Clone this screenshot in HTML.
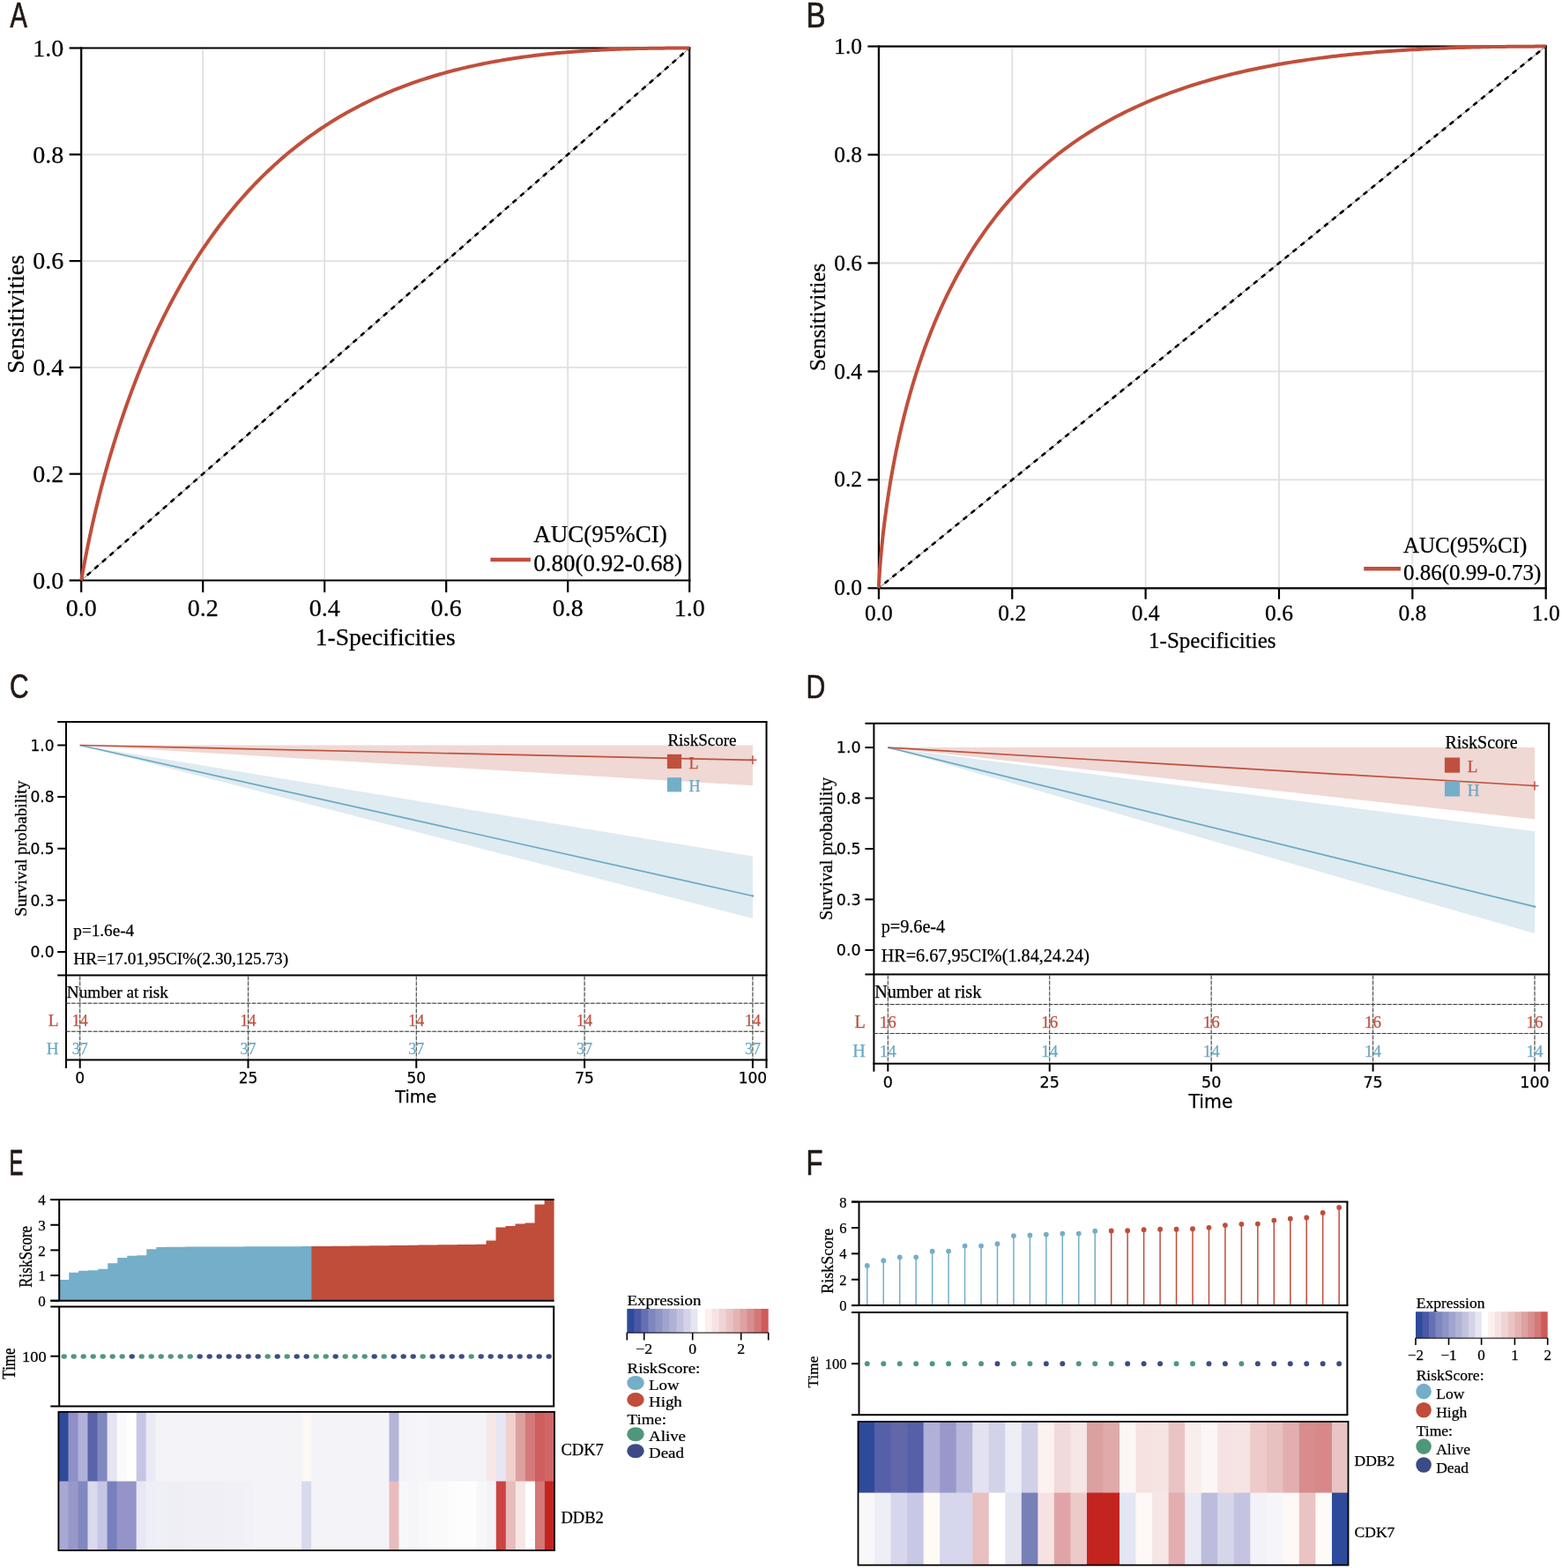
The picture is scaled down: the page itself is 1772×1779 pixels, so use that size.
<!DOCTYPE html>
<html><head><meta charset="utf-8"><title>Figure</title>
<style>html,body{margin:0;padding:0;background:#fff;}body{width:1772px;height:1779px;overflow:hidden;}svg{display:block;}</style>
</head><body>
<svg width="1772" height="1779" viewBox="0 0 1772 1779" shape-rendering="auto">
<rect x="0" y="0" width="1772" height="1779" fill="#fff"/>
<text transform="translate(11.49,30.55) scale(0.72,1)" font-family="'Liberation Sans', 'DejaVu Sans', sans-serif" font-size="40.41" fill="#231815" stroke="#231815" stroke-width="0.7">A</text>
<text transform="translate(914.44,30.65) scale(0.83,1)" font-family="'Liberation Sans', 'DejaVu Sans', sans-serif" font-size="39.97" fill="#231815" stroke="#231815" stroke-width="0.6">B</text>
<text transform="translate(10.92,792.36) scale(0.77,1)" font-family="'Liberation Sans', 'DejaVu Sans', sans-serif" font-size="38.84" fill="#231815" stroke="#231815" stroke-width="0.65">C</text>
<text transform="translate(914.46,792.25) scale(0.81,1)" font-family="'Liberation Sans', 'DejaVu Sans', sans-serif" font-size="37.35" fill="#231815" stroke="#231815" stroke-width="0.61">D</text>
<text transform="translate(10.48,1332.85) scale(0.59,1)" font-family="'Liberation Sans', 'DejaVu Sans', sans-serif" font-size="40.41" fill="#231815" stroke="#231815" stroke-width="0.84">E</text>
<text transform="translate(914.38,1332.85) scale(0.77,1)" font-family="'Liberation Sans', 'DejaVu Sans', sans-serif" font-size="40.41" fill="#231815" stroke="#231815" stroke-width="0.65">F</text>
<line x1="230.2" y1="56.5" x2="230.2" y2="657.5" stroke="#E0E0E0" stroke-width="1.8" />
<line x1="93.2" y1="537.7" x2="780.2" y2="537.7" stroke="#E0E0E0" stroke-width="1.8" />
<line x1="368.2" y1="56.5" x2="368.2" y2="657.5" stroke="#E0E0E0" stroke-width="1.8" />
<line x1="93.2" y1="416.9" x2="780.2" y2="416.9" stroke="#E0E0E0" stroke-width="1.8" />
<line x1="506.2" y1="56.5" x2="506.2" y2="657.5" stroke="#E0E0E0" stroke-width="1.8" />
<line x1="93.2" y1="296.1" x2="780.2" y2="296.1" stroke="#E0E0E0" stroke-width="1.8" />
<line x1="644.2" y1="56.5" x2="644.2" y2="657.5" stroke="#E0E0E0" stroke-width="1.8" />
<line x1="93.2" y1="175.3" x2="780.2" y2="175.3" stroke="#E0E0E0" stroke-width="1.8" />
<line x1="92.2" y1="658.5" x2="782.2" y2="54.5" stroke="#555" stroke-width="0.8" />
<line x1="92.2" y1="658.5" x2="782.2" y2="54.5" stroke="#000" stroke-width="2.6" stroke-dasharray="5.6 5.86" stroke-dashoffset="2.8"/>
<line x1="92.2" y1="54.5" x2="783.3" y2="54.5" stroke="#000" stroke-width="2.2" />
<line x1="92.2" y1="658.5" x2="783.3" y2="658.5" stroke="#000" stroke-width="2.2" />
<line x1="92.2" y1="53.4" x2="92.2" y2="659.6" stroke="#000" stroke-width="2.2" />
<line x1="782.2" y1="53.4" x2="782.2" y2="659.6" stroke="#000" stroke-width="2.2" />
<line x1="78.6" y1="658.5" x2="92.2" y2="658.5" stroke="#000" stroke-width="2.2" />
<text x="72.2" y="667.7" font-family="'Liberation Serif', 'Times New Roman', serif" font-size="28" text-anchor="end" fill="#000" stroke="#000" stroke-width="0.25" >0.0</text>
<line x1="92.2" y1="658.5" x2="92.2" y2="672.1" stroke="#000" stroke-width="2.2" />
<text x="92.2" y="698.7" font-family="'Liberation Serif', 'Times New Roman', serif" font-size="28" text-anchor="middle" fill="#000" stroke="#000" stroke-width="0.25" >0.0</text>
<line x1="78.6" y1="537.7" x2="92.2" y2="537.7" stroke="#000" stroke-width="2.2" />
<text x="72.2" y="546.9" font-family="'Liberation Serif', 'Times New Roman', serif" font-size="28" text-anchor="end" fill="#000" stroke="#000" stroke-width="0.25" >0.2</text>
<line x1="230.2" y1="658.5" x2="230.2" y2="672.1" stroke="#000" stroke-width="2.2" />
<text x="230.2" y="698.7" font-family="'Liberation Serif', 'Times New Roman', serif" font-size="28" text-anchor="middle" fill="#000" stroke="#000" stroke-width="0.25" >0.2</text>
<line x1="78.6" y1="416.9" x2="92.2" y2="416.9" stroke="#000" stroke-width="2.2" />
<text x="72.2" y="426.1" font-family="'Liberation Serif', 'Times New Roman', serif" font-size="28" text-anchor="end" fill="#000" stroke="#000" stroke-width="0.25" >0.4</text>
<line x1="368.2" y1="658.5" x2="368.2" y2="672.1" stroke="#000" stroke-width="2.2" />
<text x="368.2" y="698.7" font-family="'Liberation Serif', 'Times New Roman', serif" font-size="28" text-anchor="middle" fill="#000" stroke="#000" stroke-width="0.25" >0.4</text>
<line x1="78.6" y1="296.1" x2="92.2" y2="296.1" stroke="#000" stroke-width="2.2" />
<text x="72.2" y="305.3" font-family="'Liberation Serif', 'Times New Roman', serif" font-size="28" text-anchor="end" fill="#000" stroke="#000" stroke-width="0.25" >0.6</text>
<line x1="506.2" y1="658.5" x2="506.2" y2="672.1" stroke="#000" stroke-width="2.2" />
<text x="506.2" y="698.7" font-family="'Liberation Serif', 'Times New Roman', serif" font-size="28" text-anchor="middle" fill="#000" stroke="#000" stroke-width="0.25" >0.6</text>
<line x1="78.6" y1="175.3" x2="92.2" y2="175.3" stroke="#000" stroke-width="2.2" />
<text x="72.2" y="184.5" font-family="'Liberation Serif', 'Times New Roman', serif" font-size="28" text-anchor="end" fill="#000" stroke="#000" stroke-width="0.25" >0.8</text>
<line x1="644.2" y1="658.5" x2="644.2" y2="672.1" stroke="#000" stroke-width="2.2" />
<text x="644.2" y="698.7" font-family="'Liberation Serif', 'Times New Roman', serif" font-size="28" text-anchor="middle" fill="#000" stroke="#000" stroke-width="0.25" >0.8</text>
<line x1="78.6" y1="54.5" x2="92.2" y2="54.5" stroke="#000" stroke-width="2.2" />
<text x="72.2" y="63.7" font-family="'Liberation Serif', 'Times New Roman', serif" font-size="28" text-anchor="end" fill="#000" stroke="#000" stroke-width="0.25" >1.0</text>
<line x1="782.2" y1="658.5" x2="782.2" y2="672.1" stroke="#000" stroke-width="2.2" />
<text x="782.2" y="698.7" font-family="'Liberation Serif', 'Times New Roman', serif" font-size="28" text-anchor="middle" fill="#000" stroke="#000" stroke-width="0.25" >1.0</text>
<text x="437.2" y="731.9" font-family="'Liberation Serif', 'Times New Roman', serif" font-size="27.5" text-anchor="middle" fill="#000" stroke="#000" stroke-width="0.25" >1-Specificities</text>
<text transform="translate(27,356.5) rotate(-90)" font-family="'Liberation Serif', 'Times New Roman', serif" font-size="27.5" text-anchor="middle" fill="#000" stroke="#000" stroke-width="0.25">Sensitivities</text>
<path d="M92.2,658.5 L92.27,658.19 L92.35,657.82 L92.42,657.44 L92.49,657.04 L92.56,656.65 L92.64,656.24 L92.71,655.84 L92.78,655.43 L92.85,655.03 L92.93,654.62 L93,654.21 L93.07,653.8 L93.14,653.4 L93.22,652.99 L93.29,652.58 L93.36,652.17 L93.43,651.76 L93.51,651.35 L93.58,650.95 L93.58,650.95 L94.14,647.82 L94.7,644.72 L95.26,641.67 L95.83,638.66 L96.39,635.69 L96.95,632.76 L97.51,629.87 L98.07,627.01 L98.63,624.19 L99.19,621.4 L99.75,618.64 L100.32,615.92 L100.88,613.22 L101.44,610.55 L102,607.92 L102.56,605.31 L103.12,602.72 L103.68,600.16 L104.25,597.63 L104.81,595.12 L105.37,592.63 L105.93,590.17 L106.49,587.73 L107.05,585.31 L107.61,582.91 L108.18,580.53 L108.74,578.17 L109.3,575.84 L109.86,573.52 L110.42,571.22 L110.98,568.94 L111.54,566.68 L112.1,564.43 L112.67,562.2 L113.23,559.99 L113.79,557.8 L114.35,555.62 L114.91,553.46 L115.47,551.31 L116.03,549.18 L116.6,547.07 L117.16,544.97 L117.72,542.88 L118.28,540.81 L118.84,538.76 L119.4,536.71 L119.96,534.68 L120.53,532.67 L121.09,530.67 L121.65,528.68 L122.21,526.7 L122.77,524.74 L123.33,522.79 L123.89,520.85 L124.45,518.93 L125.02,517.01 L125.58,515.11 L126.14,513.22 L126.7,511.34 L126.7,511.34 L129.99,500.55 L133.29,490.12 L136.58,480.02 L139.88,470.25 L143.17,460.78 L146.46,451.59 L149.76,442.67 L153.05,434 L156.35,425.57 L159.64,417.37 L162.93,409.39 L166.23,401.61 L169.52,394.04 L172.82,386.65 L176.11,379.45 L179.4,372.43 L182.7,365.57 L185.99,358.88 L189.29,352.35 L192.58,345.96 L195.87,339.73 L199.17,333.63 L202.46,327.67 L205.76,321.85 L209.05,316.15 L212.34,310.58 L215.64,305.13 L218.93,299.79 L222.23,294.57 L225.52,289.46 L228.81,284.46 L232.11,279.56 L235.4,274.76 L238.69,270.06 L241.99,265.46 L245.28,260.95 L248.58,256.54 L251.87,252.21 L255.16,247.97 L258.46,243.81 L261.75,239.74 L265.05,235.75 L268.34,231.83 L271.63,228 L274.93,224.24 L278.22,220.55 L281.52,216.93 L284.81,213.39 L288.1,209.91 L291.4,206.5 L294.69,203.16 L297.99,199.88 L301.28,196.67 L304.57,193.51 L307.87,190.42 L311.16,187.39 L314.46,184.41 L317.75,181.49 L321.04,178.63 L324.34,175.82 L327.63,173.07 L330.93,170.37 L334.22,167.72 L337.51,165.12 L340.81,162.57 L344.1,160.06 L347.4,157.61 L350.69,155.2 L353.98,152.84 L357.28,150.53 L360.57,148.26 L363.87,146.03 L367.16,143.84 L370.45,141.7 L373.75,139.6 L377.04,137.54 L380.34,135.51 L383.63,133.53 L386.92,131.59 L390.22,129.68 L393.51,127.81 L396.81,125.98 L400.1,124.18 L403.39,122.42 L406.69,120.69 L409.98,119 L413.28,117.34 L416.57,115.71 L419.86,114.12 L423.16,112.55 L426.45,111.02 L429.75,109.52 L433.04,108.05 L436.33,106.61 L439.63,105.2 L442.92,103.82 L446.22,102.46 L449.51,101.13 L452.8,99.84 L456.1,98.56 L459.39,97.32 L462.68,96.1 L465.98,94.9 L469.27,93.73 L472.57,92.59 L475.86,91.47 L479.15,90.37 L482.45,89.3 L485.74,88.25 L489.04,87.23 L492.33,86.22 L495.62,85.24 L498.92,84.28 L502.21,83.35 L505.51,82.43 L508.8,81.53 L512.09,80.66 L515.39,79.8 L518.68,78.97 L521.98,78.15 L525.27,77.36 L528.56,76.58 L531.86,75.82 L535.15,75.08 L538.45,74.36 L541.74,73.65 L545.03,72.96 L548.33,72.29 L551.62,71.64 L554.92,71 L558.21,70.38 L561.5,69.78 L564.8,69.19 L568.09,68.61 L571.39,68.05 L574.68,67.51 L577.97,66.98 L581.27,66.47 L584.56,65.97 L587.86,65.49 L591.15,65.01 L594.44,64.56 L597.74,64.11 L601.03,63.68 L604.33,63.26 L607.62,62.86 L610.91,62.46 L614.21,62.08 L617.5,61.71 L620.8,61.36 L624.09,61.01 L627.38,60.68 L630.68,60.35 L633.97,60.04 L637.27,59.74 L640.56,59.45 L643.85,59.17 L647.15,58.9 L650.44,58.64 L653.74,58.39 L657.03,58.15 L660.32,57.92 L663.62,57.7 L666.91,57.49 L670.21,57.29 L673.5,57.1 L676.79,56.91 L680.09,56.73 L683.38,56.56 L686.67,56.4 L689.97,56.25 L693.26,56.11 L696.56,55.97 L699.85,55.84 L703.14,55.72 L706.44,55.6 L709.73,55.49 L713.03,55.39 L716.32,55.29 L719.61,55.21 L722.91,55.12 L726.2,55.05 L729.5,54.97 L732.79,54.91 L736.08,54.85 L739.38,54.8 L742.67,54.75 L745.97,54.7 L749.26,54.66 L752.55,54.63 L755.85,54.6 L759.14,54.57 L762.44,54.55 L765.73,54.54 L769.02,54.52 L772.32,54.51 L775.61,54.5 L778.91,54.5 L782.2,54.5 L782.2,54.5" fill="none" stroke="#C04F3C" stroke-width="4.0" stroke-linejoin="round"/>
<line x1="556.4" y1="635" x2="601.9" y2="635" stroke="#C04F3C" stroke-width="4.4" />
<text x="605.3" y="614.9" font-family="'Liberation Serif', 'Times New Roman', serif" font-size="27" text-anchor="start" fill="#000" stroke="#000" stroke-width="0.25" >AUC(95%CI)</text>
<text x="605.3" y="648.2" font-family="'Liberation Serif', 'Times New Roman', serif" font-size="27" text-anchor="start" fill="#000" stroke="#000" stroke-width="0.25" >0.80(0.92-0.68)</text>
<line x1="1148.26" y1="54.6" x2="1148.26" y2="666.3" stroke="#E0E0E0" stroke-width="1.8" />
<line x1="997.9" y1="544.36" x2="1751.7" y2="544.36" stroke="#E0E0E0" stroke-width="1.8" />
<line x1="1299.62" y1="54.6" x2="1299.62" y2="666.3" stroke="#E0E0E0" stroke-width="1.8" />
<line x1="997.9" y1="421.42" x2="1751.7" y2="421.42" stroke="#E0E0E0" stroke-width="1.8" />
<line x1="1450.98" y1="54.6" x2="1450.98" y2="666.3" stroke="#E0E0E0" stroke-width="1.8" />
<line x1="997.9" y1="298.48" x2="1751.7" y2="298.48" stroke="#E0E0E0" stroke-width="1.8" />
<line x1="1602.34" y1="54.6" x2="1602.34" y2="666.3" stroke="#E0E0E0" stroke-width="1.8" />
<line x1="997.9" y1="175.54" x2="1751.7" y2="175.54" stroke="#E0E0E0" stroke-width="1.8" />
<line x1="996.9" y1="667.3" x2="1753.7" y2="52.6" stroke="#555" stroke-width="0.8" />
<line x1="996.9" y1="667.3" x2="1753.7" y2="52.6" stroke="#000" stroke-width="2.6" stroke-dasharray="5.6 5.87" stroke-dashoffset="2.8"/>
<line x1="996.9" y1="52.6" x2="1754.8" y2="52.6" stroke="#000" stroke-width="2.2" />
<line x1="996.9" y1="667.3" x2="1754.8" y2="667.3" stroke="#000" stroke-width="2.2" />
<line x1="996.9" y1="51.5" x2="996.9" y2="668.4" stroke="#000" stroke-width="2.2" />
<line x1="1753.7" y1="51.5" x2="1753.7" y2="668.4" stroke="#000" stroke-width="2.2" />
<line x1="984.4" y1="667.3" x2="996.9" y2="667.3" stroke="#000" stroke-width="2.2" />
<text x="978" y="675.4" font-family="'Liberation Serif', 'Times New Roman', serif" font-size="25.5" text-anchor="end" fill="#000" stroke="#000" stroke-width="0.25" >0.0</text>
<line x1="996.9" y1="667.3" x2="996.9" y2="679.8" stroke="#000" stroke-width="2.2" />
<text x="996.9" y="703.9" font-family="'Liberation Serif', 'Times New Roman', serif" font-size="25.5" text-anchor="middle" fill="#000" stroke="#000" stroke-width="0.25" >0.0</text>
<line x1="984.4" y1="544.36" x2="996.9" y2="544.36" stroke="#000" stroke-width="2.2" />
<text x="978" y="552.46" font-family="'Liberation Serif', 'Times New Roman', serif" font-size="25.5" text-anchor="end" fill="#000" stroke="#000" stroke-width="0.25" >0.2</text>
<line x1="1148.26" y1="667.3" x2="1148.26" y2="679.8" stroke="#000" stroke-width="2.2" />
<text x="1148.26" y="703.9" font-family="'Liberation Serif', 'Times New Roman', serif" font-size="25.5" text-anchor="middle" fill="#000" stroke="#000" stroke-width="0.25" >0.2</text>
<line x1="984.4" y1="421.42" x2="996.9" y2="421.42" stroke="#000" stroke-width="2.2" />
<text x="978" y="429.52" font-family="'Liberation Serif', 'Times New Roman', serif" font-size="25.5" text-anchor="end" fill="#000" stroke="#000" stroke-width="0.25" >0.4</text>
<line x1="1299.62" y1="667.3" x2="1299.62" y2="679.8" stroke="#000" stroke-width="2.2" />
<text x="1299.62" y="703.9" font-family="'Liberation Serif', 'Times New Roman', serif" font-size="25.5" text-anchor="middle" fill="#000" stroke="#000" stroke-width="0.25" >0.4</text>
<line x1="984.4" y1="298.48" x2="996.9" y2="298.48" stroke="#000" stroke-width="2.2" />
<text x="978" y="306.58" font-family="'Liberation Serif', 'Times New Roman', serif" font-size="25.5" text-anchor="end" fill="#000" stroke="#000" stroke-width="0.25" >0.6</text>
<line x1="1450.98" y1="667.3" x2="1450.98" y2="679.8" stroke="#000" stroke-width="2.2" />
<text x="1450.98" y="703.9" font-family="'Liberation Serif', 'Times New Roman', serif" font-size="25.5" text-anchor="middle" fill="#000" stroke="#000" stroke-width="0.25" >0.6</text>
<line x1="984.4" y1="175.54" x2="996.9" y2="175.54" stroke="#000" stroke-width="2.2" />
<text x="978" y="183.64" font-family="'Liberation Serif', 'Times New Roman', serif" font-size="25.5" text-anchor="end" fill="#000" stroke="#000" stroke-width="0.25" >0.8</text>
<line x1="1602.34" y1="667.3" x2="1602.34" y2="679.8" stroke="#000" stroke-width="2.2" />
<text x="1602.34" y="703.9" font-family="'Liberation Serif', 'Times New Roman', serif" font-size="25.5" text-anchor="middle" fill="#000" stroke="#000" stroke-width="0.25" >0.8</text>
<line x1="984.4" y1="52.6" x2="996.9" y2="52.6" stroke="#000" stroke-width="2.2" />
<text x="978" y="60.7" font-family="'Liberation Serif', 'Times New Roman', serif" font-size="25.5" text-anchor="end" fill="#000" stroke="#000" stroke-width="0.25" >1.0</text>
<line x1="1753.7" y1="667.3" x2="1753.7" y2="679.8" stroke="#000" stroke-width="2.2" />
<text x="1753.7" y="703.9" font-family="'Liberation Serif', 'Times New Roman', serif" font-size="25.5" text-anchor="middle" fill="#000" stroke="#000" stroke-width="0.25" >1.0</text>
<text x="1375.3" y="735" font-family="'Liberation Serif', 'Times New Roman', serif" font-size="25" text-anchor="middle" fill="#000" stroke="#000" stroke-width="0.25" >1-Specificities</text>
<text transform="translate(936,359.95) rotate(-90)" font-family="'Liberation Serif', 'Times New Roman', serif" font-size="25" text-anchor="middle" fill="#000" stroke="#000" stroke-width="0.25">Sensitivities</text>
<path d="M996.9,667.3 L996.98,665.02 L997.06,663.17 L997.14,661.5 L997.22,659.94 L997.3,658.46 L997.38,657.04 L997.46,655.68 L997.54,654.36 L997.62,653.09 L997.7,651.84 L997.78,650.63 L997.86,649.45 L997.94,648.29 L998.02,647.15 L998.09,646.04 L998.17,644.94 L998.25,643.87 L998.33,642.81 L998.41,641.77 L998.41,641.77 L999.03,634.18 L999.65,627.25 L1000.26,620.79 L1000.88,614.73 L1001.49,608.98 L1002.11,603.5 L1002.72,598.26 L1003.34,593.22 L1003.95,588.37 L1004.57,583.67 L1005.19,579.13 L1005.8,574.73 L1006.42,570.45 L1007.03,566.28 L1007.65,562.22 L1008.26,558.26 L1008.88,554.4 L1009.5,550.62 L1010.11,546.93 L1010.73,543.31 L1011.34,539.77 L1011.96,536.3 L1012.57,532.9 L1013.19,529.55 L1013.81,526.27 L1014.42,523.05 L1015.04,519.88 L1015.65,516.77 L1016.27,513.71 L1016.88,510.69 L1017.5,507.72 L1018.12,504.8 L1018.73,501.92 L1019.35,499.09 L1019.96,496.29 L1020.58,493.54 L1021.19,490.82 L1021.81,488.14 L1022.43,485.49 L1023.04,482.88 L1023.66,480.31 L1024.27,477.76 L1024.89,475.25 L1025.5,472.77 L1026.12,470.32 L1026.74,467.9 L1027.35,465.5 L1027.97,463.14 L1028.58,460.8 L1029.2,458.49 L1029.81,456.2 L1030.43,453.94 L1031.05,451.7 L1031.66,449.49 L1032.28,447.3 L1032.89,445.13 L1033.51,442.99 L1034.12,440.87 L1034.74,438.76 L1034.74,438.76 L1038.35,426.85 L1041.97,415.57 L1045.58,404.87 L1049.19,394.69 L1052.8,384.97 L1056.42,375.7 L1060.03,366.81 L1063.64,358.3 L1067.26,350.12 L1070.87,342.26 L1074.48,334.69 L1078.09,327.39 L1081.71,320.36 L1085.32,313.56 L1088.93,307 L1092.55,300.65 L1096.16,294.5 L1099.77,288.55 L1103.38,282.79 L1107,277.2 L1110.61,271.77 L1114.22,266.51 L1117.84,261.39 L1121.45,256.42 L1125.06,251.59 L1128.67,246.9 L1132.29,242.33 L1135.9,237.88 L1139.51,233.55 L1143.13,229.34 L1146.74,225.23 L1150.35,221.23 L1153.96,217.33 L1157.58,213.53 L1161.19,209.82 L1164.8,206.21 L1168.42,202.68 L1172.03,199.23 L1175.64,195.87 L1179.25,192.59 L1182.87,189.39 L1186.48,186.26 L1190.09,183.2 L1193.71,180.21 L1197.32,177.3 L1200.93,174.44 L1204.54,171.66 L1208.16,168.93 L1211.77,166.27 L1215.38,163.66 L1219,161.12 L1222.61,158.62 L1226.22,156.19 L1229.83,153.8 L1233.45,151.47 L1237.06,149.19 L1240.67,146.96 L1244.29,144.77 L1247.9,142.63 L1251.51,140.54 L1255.12,138.49 L1258.74,136.49 L1262.35,134.52 L1265.96,132.6 L1269.58,130.72 L1273.19,128.88 L1276.8,127.07 L1280.41,125.31 L1284.03,123.58 L1287.64,121.89 L1291.25,120.23 L1294.87,118.6 L1298.48,117.01 L1302.09,115.46 L1305.7,113.93 L1309.32,112.44 L1312.93,110.97 L1316.54,109.54 L1320.16,108.14 L1323.77,106.76 L1327.38,105.42 L1330.99,104.1 L1334.61,102.81 L1338.22,101.54 L1341.83,100.3 L1345.45,99.09 L1349.06,97.9 L1352.67,96.74 L1356.28,95.6 L1359.9,94.48 L1363.51,93.39 L1367.12,92.32 L1370.74,91.27 L1374.35,90.25 L1377.96,89.24 L1381.57,88.26 L1385.19,87.3 L1388.8,86.35 L1392.41,85.43 L1396.03,84.53 L1399.64,83.64 L1403.25,82.78 L1406.87,81.93 L1410.48,81.1 L1414.09,80.29 L1417.7,79.5 L1421.32,78.72 L1424.93,77.96 L1428.54,77.22 L1432.16,76.49 L1435.77,75.78 L1439.38,75.09 L1442.99,74.41 L1446.61,73.74 L1450.22,73.09 L1453.83,72.46 L1457.45,71.84 L1461.06,71.23 L1464.67,70.64 L1468.28,70.06 L1471.9,69.49 L1475.51,68.94 L1479.12,68.4 L1482.74,67.87 L1486.35,67.36 L1489.96,66.86 L1493.57,66.36 L1497.19,65.89 L1500.8,65.42 L1504.41,64.96 L1508.03,64.52 L1511.64,64.09 L1515.25,63.66 L1518.86,63.25 L1522.48,62.85 L1526.09,62.46 L1529.7,62.08 L1533.32,61.71 L1536.93,61.35 L1540.54,61 L1544.15,60.66 L1547.77,60.32 L1551.38,60 L1554.99,59.69 L1558.61,59.38 L1562.22,59.09 L1565.83,58.8 L1569.44,58.52 L1573.06,58.25 L1576.67,57.98 L1580.28,57.73 L1583.9,57.48 L1587.51,57.24 L1591.12,57.01 L1594.73,56.79 L1598.35,56.57 L1601.96,56.36 L1605.57,56.16 L1609.19,55.96 L1612.8,55.77 L1616.41,55.59 L1620.02,55.41 L1623.64,55.24 L1627.25,55.08 L1630.86,54.93 L1634.48,54.77 L1638.09,54.63 L1641.7,54.49 L1645.31,54.36 L1648.93,54.23 L1652.54,54.11 L1656.15,54 L1659.77,53.88 L1663.38,53.78 L1666.99,53.68 L1670.6,53.58 L1674.22,53.49 L1677.83,53.41 L1681.44,53.33 L1685.06,53.25 L1688.67,53.18 L1692.28,53.12 L1695.89,53.06 L1699.51,53 L1703.12,52.95 L1706.73,52.9 L1710.35,52.85 L1713.96,52.81 L1717.57,52.77 L1721.18,52.74 L1724.8,52.71 L1728.41,52.68 L1732.02,52.66 L1735.64,52.64 L1739.25,52.63 L1742.86,52.62 L1746.47,52.61 L1750.09,52.6 L1753.7,52.6 L1753.7,52.6" fill="none" stroke="#C04F3C" stroke-width="4.0" stroke-linejoin="round"/>
<line x1="1547.2" y1="645.3" x2="1589" y2="645.3" stroke="#C04F3C" stroke-width="4.4" />
<text x="1592" y="627" font-family="'Liberation Serif', 'Times New Roman', serif" font-size="25" text-anchor="start" fill="#000" stroke="#000" stroke-width="0.25" >AUC(95%CI)</text>
<text x="1592" y="657.8" font-family="'Liberation Serif', 'Times New Roman', serif" font-size="25" text-anchor="start" fill="#000" stroke="#000" stroke-width="0.25" >0.86(0.99-0.73)</text>
<polygon points="90.7,845.5 853.9,845.5 853.9,891.3" fill="#F0D8D4"/>
<polygon points="90.7,845.5 853.9,971.5 853.9,1041.9" fill="#DEEBF1"/>
<line x1="90.7" y1="845.5" x2="853.9" y2="1016.5" stroke="#6AA8C3" stroke-width="1.7" />
<line x1="90.7" y1="845.5" x2="853.9" y2="862.3" stroke="#C0503E" stroke-width="1.7" />
<line x1="849.4" y1="862.3" x2="858.4" y2="862.3" stroke="#C0503E" stroke-width="1.5" />
<line x1="853.9" y1="857.3" x2="853.9" y2="867.3" stroke="#C0503E" stroke-width="1.5" />
<circle cx="853.9" cy="1016.5" r="1.3" fill="#6AA8C3"/>
<text x="757.4" y="846.3" font-family="'Liberation Serif', 'Times New Roman', serif" font-size="19" text-anchor="start" fill="#000" stroke="#000" stroke-width="0.25" >RiskScore</text>
<rect x="756.9" y="855.8" width="16.2" height="16.2" fill="#C0503E" />
<rect x="756.9" y="882.2" width="16.2" height="16.2" fill="#74AEC8" />
<text x="781.5" y="871.7" font-family="'Liberation Serif', 'Times New Roman', serif" font-size="18" text-anchor="start" fill="#C0503E" stroke="#C0503E" stroke-width="0.25" >L</text>
<text x="781.5" y="898" font-family="'Liberation Serif', 'Times New Roman', serif" font-size="18" text-anchor="start" fill="#6AA8C3" stroke="#6AA8C3" stroke-width="0.25" >H</text>
<text x="83.3" y="1062.2" font-family="'Liberation Serif', 'Times New Roman', serif" font-size="19.2" text-anchor="start" fill="#000" stroke="#000" stroke-width="0.25" >p=1.6e-4</text>
<text x="83.3" y="1094" font-family="'Liberation Serif', 'Times New Roman', serif" font-size="19.2" text-anchor="start" fill="#000" stroke="#000" stroke-width="0.25" >HR=17.01,95CI%(2.30,125.73)</text>
<text transform="translate(29.5,962.75) rotate(-90)" font-family="'Liberation Serif', 'Times New Roman', serif" font-size="19.2" text-anchor="middle" fill="#000" stroke="#000" stroke-width="0.25">Survival probability</text>
<line x1="65.2" y1="819.1" x2="870.5" y2="819.1" stroke="#000" stroke-width="2" />
<line x1="75" y1="819.1" x2="75" y2="1211.9" stroke="#000" stroke-width="2" />
<line x1="869.5" y1="819.1" x2="869.5" y2="1211.9" stroke="#000" stroke-width="2" />
<line x1="65.2" y1="1106.5" x2="870.5" y2="1106.5" stroke="#000" stroke-width="2" />
<line x1="65.2" y1="845.5" x2="75" y2="845.5" stroke="#000" stroke-width="2" />
<text x="61.6" y="851.71" font-family="'DejaVu Sans', 'Liberation Sans', sans-serif" font-size="17" text-anchor="end" fill="#000" stroke="#000" stroke-width="0.25" >1.0</text>
<line x1="65.2" y1="904.12" x2="75" y2="904.12" stroke="#000" stroke-width="2" />
<text x="61.6" y="910.33" font-family="'DejaVu Sans', 'Liberation Sans', sans-serif" font-size="17" text-anchor="end" fill="#000" stroke="#000" stroke-width="0.25" >0.8</text>
<line x1="65.2" y1="962.75" x2="75" y2="962.75" stroke="#000" stroke-width="2" />
<text x="61.6" y="968.96" font-family="'DejaVu Sans', 'Liberation Sans', sans-serif" font-size="17" text-anchor="end" fill="#000" stroke="#000" stroke-width="0.25" >0.5</text>
<line x1="65.2" y1="1021.38" x2="75" y2="1021.38" stroke="#000" stroke-width="2" />
<text x="61.6" y="1027.58" font-family="'DejaVu Sans', 'Liberation Sans', sans-serif" font-size="17" text-anchor="end" fill="#000" stroke="#000" stroke-width="0.25" >0.3</text>
<line x1="65.2" y1="1080" x2="75" y2="1080" stroke="#000" stroke-width="2" />
<text x="61.6" y="1086.2" font-family="'DejaVu Sans', 'Liberation Sans', sans-serif" font-size="17" text-anchor="end" fill="#000" stroke="#000" stroke-width="0.25" >0.0</text>
<text x="75.8" y="1131.9" font-family="'Liberation Serif', 'Times New Roman', serif" font-size="19.2" text-anchor="start" fill="#000" stroke="#000" stroke-width="0.25" >Number at risk</text>
<line x1="75" y1="1138.2" x2="868" y2="1138.2" stroke="#999" stroke-width="0.6" />
<line x1="75" y1="1138.2" x2="868" y2="1138.2" stroke="#3a3a3a" stroke-width="1.05" stroke-dasharray="4.4 1.8"/>
<line x1="75" y1="1170.2" x2="868" y2="1170.2" stroke="#999" stroke-width="0.6" />
<line x1="75" y1="1170.2" x2="868" y2="1170.2" stroke="#3a3a3a" stroke-width="1.05" stroke-dasharray="4.4 1.8"/>
<line x1="90.7" y1="1107.5" x2="90.7" y2="1202.5" stroke="#999" stroke-width="0.6" />
<line x1="90.7" y1="1107.5" x2="90.7" y2="1202.5" stroke="#3a3a3a" stroke-width="0.95" stroke-dasharray="4.4 1.8"/>
<line x1="90.7" y1="1202.5" x2="90.7" y2="1211.9" stroke="#000" stroke-width="2" />
<text x="90.7" y="1229.3" font-family="'DejaVu Sans', 'Liberation Sans', sans-serif" font-size="17" text-anchor="middle" fill="#000" stroke="#000" stroke-width="0.25" >0</text>
<text x="90.7" y="1164.1" font-family="'Liberation Serif', 'Times New Roman', serif" font-size="18" text-anchor="middle" fill="#C0503E" stroke="#C0503E" stroke-width="0.25" >14</text>
<text x="90.7" y="1195.9" font-family="'Liberation Serif', 'Times New Roman', serif" font-size="18" text-anchor="middle" fill="#6AA8C3" stroke="#6AA8C3" stroke-width="0.25" >37</text>
<line x1="281.5" y1="1107.5" x2="281.5" y2="1202.5" stroke="#999" stroke-width="0.6" />
<line x1="281.5" y1="1107.5" x2="281.5" y2="1202.5" stroke="#3a3a3a" stroke-width="0.95" stroke-dasharray="4.4 1.8"/>
<line x1="281.5" y1="1202.5" x2="281.5" y2="1211.9" stroke="#000" stroke-width="2" />
<text x="281.5" y="1229.3" font-family="'DejaVu Sans', 'Liberation Sans', sans-serif" font-size="17" text-anchor="middle" fill="#000" stroke="#000" stroke-width="0.25" >25</text>
<text x="281.5" y="1164.1" font-family="'Liberation Serif', 'Times New Roman', serif" font-size="18" text-anchor="middle" fill="#C0503E" stroke="#C0503E" stroke-width="0.25" >14</text>
<text x="281.5" y="1195.9" font-family="'Liberation Serif', 'Times New Roman', serif" font-size="18" text-anchor="middle" fill="#6AA8C3" stroke="#6AA8C3" stroke-width="0.25" >37</text>
<line x1="472.3" y1="1107.5" x2="472.3" y2="1202.5" stroke="#999" stroke-width="0.6" />
<line x1="472.3" y1="1107.5" x2="472.3" y2="1202.5" stroke="#3a3a3a" stroke-width="0.95" stroke-dasharray="4.4 1.8"/>
<line x1="472.3" y1="1202.5" x2="472.3" y2="1211.9" stroke="#000" stroke-width="2" />
<text x="472.3" y="1229.3" font-family="'DejaVu Sans', 'Liberation Sans', sans-serif" font-size="17" text-anchor="middle" fill="#000" stroke="#000" stroke-width="0.25" >50</text>
<text x="472.3" y="1164.1" font-family="'Liberation Serif', 'Times New Roman', serif" font-size="18" text-anchor="middle" fill="#C0503E" stroke="#C0503E" stroke-width="0.25" >14</text>
<text x="472.3" y="1195.9" font-family="'Liberation Serif', 'Times New Roman', serif" font-size="18" text-anchor="middle" fill="#6AA8C3" stroke="#6AA8C3" stroke-width="0.25" >37</text>
<line x1="663.1" y1="1107.5" x2="663.1" y2="1202.5" stroke="#999" stroke-width="0.6" />
<line x1="663.1" y1="1107.5" x2="663.1" y2="1202.5" stroke="#3a3a3a" stroke-width="0.95" stroke-dasharray="4.4 1.8"/>
<line x1="663.1" y1="1202.5" x2="663.1" y2="1211.9" stroke="#000" stroke-width="2" />
<text x="663.1" y="1229.3" font-family="'DejaVu Sans', 'Liberation Sans', sans-serif" font-size="17" text-anchor="middle" fill="#000" stroke="#000" stroke-width="0.25" >75</text>
<text x="663.1" y="1164.1" font-family="'Liberation Serif', 'Times New Roman', serif" font-size="18" text-anchor="middle" fill="#C0503E" stroke="#C0503E" stroke-width="0.25" >14</text>
<text x="663.1" y="1195.9" font-family="'Liberation Serif', 'Times New Roman', serif" font-size="18" text-anchor="middle" fill="#6AA8C3" stroke="#6AA8C3" stroke-width="0.25" >37</text>
<line x1="853.9" y1="1107.5" x2="853.9" y2="1202.5" stroke="#999" stroke-width="0.6" />
<line x1="853.9" y1="1107.5" x2="853.9" y2="1202.5" stroke="#3a3a3a" stroke-width="0.95" stroke-dasharray="4.4 1.8"/>
<line x1="853.9" y1="1202.5" x2="853.9" y2="1211.9" stroke="#000" stroke-width="2" />
<text x="853.9" y="1229.3" font-family="'DejaVu Sans', 'Liberation Sans', sans-serif" font-size="17" text-anchor="middle" fill="#000" stroke="#000" stroke-width="0.25" >100</text>
<text x="853.9" y="1164.1" font-family="'Liberation Serif', 'Times New Roman', serif" font-size="18" text-anchor="middle" fill="#C0503E" stroke="#C0503E" stroke-width="0.25" >14</text>
<text x="853.9" y="1195.9" font-family="'Liberation Serif', 'Times New Roman', serif" font-size="18" text-anchor="middle" fill="#6AA8C3" stroke="#6AA8C3" stroke-width="0.25" >37</text>
<line x1="74" y1="1202.5" x2="870.5" y2="1202.5" stroke="#000" stroke-width="2" />
<text x="66.5" y="1164.1" font-family="'Liberation Serif', 'Times New Roman', serif" font-size="19.2" text-anchor="end" fill="#C0503E" stroke="#C0503E" stroke-width="0.25" >L</text>
<text x="66.5" y="1195.9" font-family="'Liberation Serif', 'Times New Roman', serif" font-size="19.2" text-anchor="end" fill="#6AA8C3" stroke="#6AA8C3" stroke-width="0.25" >H</text>
<text x="471.8" y="1250.5" font-family="'DejaVu Sans', 'Liberation Sans', sans-serif" font-size="19.2" text-anchor="middle" fill="#000" stroke="#000" stroke-width="0.25" >Time</text>
<polygon points="1007.3,848.1 1741,848.1 1741,929.6" fill="#F0D8D4"/>
<polygon points="1007.3,848.1 1741,943.3 1741,1059.1" fill="#DEEBF1"/>
<line x1="1007.3" y1="848.1" x2="1741" y2="1028.7" stroke="#6AA8C3" stroke-width="1.7" />
<line x1="1007.3" y1="848.1" x2="1741" y2="891.5" stroke="#C0503E" stroke-width="1.7" />
<line x1="1736.5" y1="891.5" x2="1745.5" y2="891.5" stroke="#C0503E" stroke-width="1.5" />
<line x1="1741" y1="886.5" x2="1741" y2="896.5" stroke="#C0503E" stroke-width="1.5" />
<circle cx="1741" cy="1028.7" r="1.3" fill="#6AA8C3"/>
<text x="1639.4" y="848.9" font-family="'Liberation Serif', 'Times New Roman', serif" font-size="20" text-anchor="start" fill="#000" stroke="#000" stroke-width="0.25" >RiskScore</text>
<rect x="1638.9" y="859.5" width="17.2" height="17.2" fill="#C0503E" />
<rect x="1638.9" y="886.4" width="17.2" height="17.2" fill="#74AEC8" />
<text x="1664.8" y="876" font-family="'Liberation Serif', 'Times New Roman', serif" font-size="19" text-anchor="start" fill="#C0503E" stroke="#C0503E" stroke-width="0.25" >L</text>
<text x="1664.8" y="903" font-family="'Liberation Serif', 'Times New Roman', serif" font-size="19" text-anchor="start" fill="#6AA8C3" stroke="#6AA8C3" stroke-width="0.25" >H</text>
<text x="999.7" y="1057.6" font-family="'Liberation Serif', 'Times New Roman', serif" font-size="20.2" text-anchor="start" fill="#000" stroke="#000" stroke-width="0.25" >p=9.6e-4</text>
<text x="999.7" y="1091.4" font-family="'Liberation Serif', 'Times New Roman', serif" font-size="20.2" text-anchor="start" fill="#000" stroke="#000" stroke-width="0.25" >HR=6.67,95CI%(1.84,24.24)</text>
<text transform="translate(944,963) rotate(-90)" font-family="'Liberation Serif', 'Times New Roman', serif" font-size="20.2" text-anchor="middle" fill="#000" stroke="#000" stroke-width="0.25">Survival probability</text>
<line x1="981.4" y1="820.7" x2="1758.2" y2="820.7" stroke="#000" stroke-width="2" />
<line x1="991.4" y1="820.7" x2="991.4" y2="1215.7" stroke="#000" stroke-width="2" />
<line x1="1757.2" y1="820.7" x2="1757.2" y2="1215.7" stroke="#000" stroke-width="2" />
<line x1="981.4" y1="1105.6" x2="1758.2" y2="1105.6" stroke="#000" stroke-width="2" />
<line x1="981.4" y1="848.1" x2="991.4" y2="848.1" stroke="#000" stroke-width="2" />
<text x="976.6" y="854.49" font-family="'DejaVu Sans', 'Liberation Sans', sans-serif" font-size="17.5" text-anchor="end" fill="#000" stroke="#000" stroke-width="0.25" >1.0</text>
<line x1="981.4" y1="905.55" x2="991.4" y2="905.55" stroke="#000" stroke-width="2" />
<text x="976.6" y="911.94" font-family="'DejaVu Sans', 'Liberation Sans', sans-serif" font-size="17.5" text-anchor="end" fill="#000" stroke="#000" stroke-width="0.25" >0.8</text>
<line x1="981.4" y1="963" x2="991.4" y2="963" stroke="#000" stroke-width="2" />
<text x="976.6" y="969.39" font-family="'DejaVu Sans', 'Liberation Sans', sans-serif" font-size="17.5" text-anchor="end" fill="#000" stroke="#000" stroke-width="0.25" >0.5</text>
<line x1="981.4" y1="1020.45" x2="991.4" y2="1020.45" stroke="#000" stroke-width="2" />
<text x="976.6" y="1026.84" font-family="'DejaVu Sans', 'Liberation Sans', sans-serif" font-size="17.5" text-anchor="end" fill="#000" stroke="#000" stroke-width="0.25" >0.3</text>
<line x1="981.4" y1="1077.9" x2="991.4" y2="1077.9" stroke="#000" stroke-width="2" />
<text x="976.6" y="1084.29" font-family="'DejaVu Sans', 'Liberation Sans', sans-serif" font-size="17.5" text-anchor="end" fill="#000" stroke="#000" stroke-width="0.25" >0.0</text>
<text x="992.2" y="1131.9" font-family="'Liberation Serif', 'Times New Roman', serif" font-size="20.2" text-anchor="start" fill="#000" stroke="#000" stroke-width="0.25" >Number at risk</text>
<line x1="991.4" y1="1139.5" x2="1755.7" y2="1139.5" stroke="#999" stroke-width="0.6" />
<line x1="991.4" y1="1139.5" x2="1755.7" y2="1139.5" stroke="#3a3a3a" stroke-width="1.05" stroke-dasharray="4.4 1.8"/>
<line x1="991.4" y1="1172.5" x2="1755.7" y2="1172.5" stroke="#999" stroke-width="0.6" />
<line x1="991.4" y1="1172.5" x2="1755.7" y2="1172.5" stroke="#3a3a3a" stroke-width="1.05" stroke-dasharray="4.4 1.8"/>
<line x1="1007.3" y1="1106.6" x2="1007.3" y2="1206.8" stroke="#999" stroke-width="0.6" />
<line x1="1007.3" y1="1106.6" x2="1007.3" y2="1206.8" stroke="#3a3a3a" stroke-width="0.95" stroke-dasharray="4.4 1.8"/>
<line x1="1007.3" y1="1206.8" x2="1007.3" y2="1215.7" stroke="#000" stroke-width="2" />
<text x="1007.3" y="1234.3" font-family="'DejaVu Sans', 'Liberation Sans', sans-serif" font-size="17.5" text-anchor="middle" fill="#000" stroke="#000" stroke-width="0.25" >0</text>
<text x="1007.3" y="1165.7" font-family="'Liberation Serif', 'Times New Roman', serif" font-size="19" text-anchor="middle" fill="#C0503E" stroke="#C0503E" stroke-width="0.25" >16</text>
<text x="1007.3" y="1199.2" font-family="'Liberation Serif', 'Times New Roman', serif" font-size="19" text-anchor="middle" fill="#6AA8C3" stroke="#6AA8C3" stroke-width="0.25" >14</text>
<line x1="1190.72" y1="1106.6" x2="1190.72" y2="1206.8" stroke="#999" stroke-width="0.6" />
<line x1="1190.72" y1="1106.6" x2="1190.72" y2="1206.8" stroke="#3a3a3a" stroke-width="0.95" stroke-dasharray="4.4 1.8"/>
<line x1="1190.72" y1="1206.8" x2="1190.72" y2="1215.7" stroke="#000" stroke-width="2" />
<text x="1190.72" y="1234.3" font-family="'DejaVu Sans', 'Liberation Sans', sans-serif" font-size="17.5" text-anchor="middle" fill="#000" stroke="#000" stroke-width="0.25" >25</text>
<text x="1190.72" y="1165.7" font-family="'Liberation Serif', 'Times New Roman', serif" font-size="19" text-anchor="middle" fill="#C0503E" stroke="#C0503E" stroke-width="0.25" >16</text>
<text x="1190.72" y="1199.2" font-family="'Liberation Serif', 'Times New Roman', serif" font-size="19" text-anchor="middle" fill="#6AA8C3" stroke="#6AA8C3" stroke-width="0.25" >14</text>
<line x1="1374.15" y1="1106.6" x2="1374.15" y2="1206.8" stroke="#999" stroke-width="0.6" />
<line x1="1374.15" y1="1106.6" x2="1374.15" y2="1206.8" stroke="#3a3a3a" stroke-width="0.95" stroke-dasharray="4.4 1.8"/>
<line x1="1374.15" y1="1206.8" x2="1374.15" y2="1215.7" stroke="#000" stroke-width="2" />
<text x="1374.15" y="1234.3" font-family="'DejaVu Sans', 'Liberation Sans', sans-serif" font-size="17.5" text-anchor="middle" fill="#000" stroke="#000" stroke-width="0.25" >50</text>
<text x="1374.15" y="1165.7" font-family="'Liberation Serif', 'Times New Roman', serif" font-size="19" text-anchor="middle" fill="#C0503E" stroke="#C0503E" stroke-width="0.25" >16</text>
<text x="1374.15" y="1199.2" font-family="'Liberation Serif', 'Times New Roman', serif" font-size="19" text-anchor="middle" fill="#6AA8C3" stroke="#6AA8C3" stroke-width="0.25" >14</text>
<line x1="1557.57" y1="1106.6" x2="1557.57" y2="1206.8" stroke="#999" stroke-width="0.6" />
<line x1="1557.57" y1="1106.6" x2="1557.57" y2="1206.8" stroke="#3a3a3a" stroke-width="0.95" stroke-dasharray="4.4 1.8"/>
<line x1="1557.57" y1="1206.8" x2="1557.57" y2="1215.7" stroke="#000" stroke-width="2" />
<text x="1557.57" y="1234.3" font-family="'DejaVu Sans', 'Liberation Sans', sans-serif" font-size="17.5" text-anchor="middle" fill="#000" stroke="#000" stroke-width="0.25" >75</text>
<text x="1557.57" y="1165.7" font-family="'Liberation Serif', 'Times New Roman', serif" font-size="19" text-anchor="middle" fill="#C0503E" stroke="#C0503E" stroke-width="0.25" >16</text>
<text x="1557.57" y="1199.2" font-family="'Liberation Serif', 'Times New Roman', serif" font-size="19" text-anchor="middle" fill="#6AA8C3" stroke="#6AA8C3" stroke-width="0.25" >14</text>
<line x1="1741" y1="1106.6" x2="1741" y2="1206.8" stroke="#999" stroke-width="0.6" />
<line x1="1741" y1="1106.6" x2="1741" y2="1206.8" stroke="#3a3a3a" stroke-width="0.95" stroke-dasharray="4.4 1.8"/>
<line x1="1741" y1="1206.8" x2="1741" y2="1215.7" stroke="#000" stroke-width="2" />
<text x="1741" y="1234.3" font-family="'DejaVu Sans', 'Liberation Sans', sans-serif" font-size="17.5" text-anchor="middle" fill="#000" stroke="#000" stroke-width="0.25" >100</text>
<text x="1741" y="1165.7" font-family="'Liberation Serif', 'Times New Roman', serif" font-size="19" text-anchor="middle" fill="#C0503E" stroke="#C0503E" stroke-width="0.25" >16</text>
<text x="1741" y="1199.2" font-family="'Liberation Serif', 'Times New Roman', serif" font-size="19" text-anchor="middle" fill="#6AA8C3" stroke="#6AA8C3" stroke-width="0.25" >14</text>
<line x1="990.4" y1="1206.8" x2="1758.2" y2="1206.8" stroke="#000" stroke-width="2" />
<text x="981.9" y="1165.7" font-family="'Liberation Serif', 'Times New Roman', serif" font-size="20.2" text-anchor="end" fill="#C0503E" stroke="#C0503E" stroke-width="0.25" >L</text>
<text x="981.9" y="1199.2" font-family="'Liberation Serif', 'Times New Roman', serif" font-size="20.2" text-anchor="end" fill="#6AA8C3" stroke="#6AA8C3" stroke-width="0.25" >H</text>
<text x="1373.5" y="1257.4" font-family="'DejaVu Sans', 'Liberation Sans', sans-serif" font-size="20.4" text-anchor="middle" fill="#000" stroke="#000" stroke-width="0.25" >Time</text>
<path d="M67.2,1475.7 L67.2,1451.92 L78.21,1451.92 L78.21,1443.78 L89.22,1443.78 L89.22,1441.75 L100.22,1441.75 L100.22,1441.23 L111.23,1441.23 L111.23,1439.72 L122.24,1439.72 L122.24,1433.3 L133.25,1433.3 L133.25,1426.99 L144.25,1426.99 L144.25,1424.7 L155.26,1424.7 L155.26,1424.13 L166.27,1424.13 L166.27,1417.25 L177.28,1417.25 L177.28,1415.11 L188.29,1415.11 L188.29,1414.68 L199.29,1414.68 L199.29,1414.63 L210.3,1414.63 L210.3,1414.59 L221.31,1414.59 L221.31,1414.55 L232.32,1414.55 L232.32,1414.51 L243.33,1414.51 L243.33,1414.47 L254.33,1414.47 L254.33,1414.43 L265.34,1414.43 L265.34,1414.39 L276.35,1414.39 L276.35,1414.35 L287.36,1414.35 L287.36,1414.31 L298.36,1414.31 L298.36,1414.27 L309.37,1414.27 L309.37,1414.23 L320.38,1414.23 L320.38,1414.18 L331.39,1414.18 L331.39,1414.14 L342.4,1414.14 L342.4,1414.1 L353.4,1414.1 L354.2,1414.1 L354.2,1475.7 Z" fill="#74AEC8"/>
<path d="M353.4,1475.7 L353.4,1414.1 L364.41,1414.1 L364.41,1413.97 L375.42,1413.97 L375.42,1413.83 L386.43,1413.83 L386.43,1413.7 L397.44,1413.7 L397.44,1413.56 L408.44,1413.56 L408.44,1413.43 L419.45,1413.43 L419.45,1413.29 L430.46,1413.29 L430.46,1413.16 L441.47,1413.16 L441.47,1413.02 L452.47,1413.02 L452.47,1412.89 L463.48,1412.89 L463.48,1412.75 L474.49,1412.75 L474.49,1412.62 L485.5,1412.62 L485.5,1412.48 L496.51,1412.48 L496.51,1412.35 L507.51,1412.35 L507.51,1412.21 L518.52,1412.21 L518.52,1412.08 L529.53,1412.08 L529.53,1411.95 L540.54,1411.95 L540.54,1411.81 L551.55,1411.81 L551.55,1407.51 L562.55,1407.51 L562.55,1392.62 L573.56,1392.62 L573.56,1390.9 L584.57,1390.9 L584.57,1388.6 L595.58,1388.6 L595.58,1387.46 L606.58,1387.46 L606.58,1366.54 L617.59,1366.54 L617.59,1361.1 L628.6,1361.1 L628.6,1475.7 Z" fill="#BF4D3A"/>
<line x1="57.3" y1="1361.1" x2="628.6" y2="1361.1" stroke="#000" stroke-width="2" />
<line x1="57.3" y1="1475.7" x2="628.6" y2="1475.7" stroke="#000" stroke-width="2" />
<line x1="67.2" y1="1360.1" x2="67.2" y2="1476.7" stroke="#000" stroke-width="2" />
<line x1="57.3" y1="1475.7" x2="67.2" y2="1475.7" stroke="#000" stroke-width="2" />
<text x="51.7" y="1482" font-family="'Liberation Serif', 'Times New Roman', serif" font-size="17" text-anchor="end" fill="#000" stroke="#000" stroke-width="0.25" >0</text>
<line x1="57.3" y1="1447.05" x2="67.2" y2="1447.05" stroke="#000" stroke-width="2" />
<text x="51.7" y="1453.35" font-family="'Liberation Serif', 'Times New Roman', serif" font-size="17" text-anchor="end" fill="#000" stroke="#000" stroke-width="0.25" >1</text>
<line x1="57.3" y1="1418.4" x2="67.2" y2="1418.4" stroke="#000" stroke-width="2" />
<text x="51.7" y="1424.7" font-family="'Liberation Serif', 'Times New Roman', serif" font-size="17" text-anchor="end" fill="#000" stroke="#000" stroke-width="0.25" >2</text>
<line x1="57.3" y1="1389.75" x2="67.2" y2="1389.75" stroke="#000" stroke-width="2" />
<text x="51.7" y="1396.05" font-family="'Liberation Serif', 'Times New Roman', serif" font-size="17" text-anchor="end" fill="#000" stroke="#000" stroke-width="0.25" >3</text>
<line x1="57.3" y1="1361.1" x2="67.2" y2="1361.1" stroke="#000" stroke-width="2" />
<text x="51.7" y="1367.4" font-family="'Liberation Serif', 'Times New Roman', serif" font-size="17" text-anchor="end" fill="#000" stroke="#000" stroke-width="0.25" >4</text>
<text transform="translate(36,1425.8) rotate(-90) scale(1,1.2)" font-family="'Liberation Serif', 'Times New Roman', serif" font-size="17" text-anchor="middle" fill="#000" stroke="#000" stroke-width="0.25">RiskScore</text>
<line x1="57.3" y1="1482.4" x2="629.2" y2="1482.4" stroke="#000" stroke-width="2" />
<line x1="57.3" y1="1595.4" x2="629.2" y2="1595.4" stroke="#000" stroke-width="2" />
<line x1="67.2" y1="1482.4" x2="67.2" y2="1595.4" stroke="#000" stroke-width="2" />
<line x1="628.2" y1="1482.4" x2="628.2" y2="1595.4" stroke="#000" stroke-width="2" />
<line x1="57.3" y1="1538.7" x2="67.2" y2="1538.7" stroke="#000" stroke-width="2" />
<text transform="translate(52.6,1544.6) scale(1.08,1)" font-family="'Liberation Serif', 'Times New Roman', serif" font-size="17" text-anchor="end" fill="#000" stroke="#000" stroke-width="0.25">100</text>
<text transform="translate(16.8,1547) rotate(-90) scale(1,1.2)" font-family="'Liberation Serif', 'Times New Roman', serif" font-size="17" text-anchor="middle" fill="#000" stroke="#000" stroke-width="0.25">Time</text>
<ellipse cx="72.7" cy="1538.9" rx="3.2" ry="2.75" fill="#4F977B"/>
<ellipse cx="83.7" cy="1538.9" rx="3.2" ry="2.75" fill="#4F977B"/>
<ellipse cx="94.7" cy="1538.9" rx="3.2" ry="2.75" fill="#4F977B"/>
<ellipse cx="105.7" cy="1538.9" rx="3.2" ry="2.75" fill="#4F977B"/>
<ellipse cx="116.7" cy="1538.9" rx="3.2" ry="2.75" fill="#4F977B"/>
<ellipse cx="127.7" cy="1538.9" rx="3.2" ry="2.75" fill="#4F977B"/>
<ellipse cx="138.7" cy="1538.9" rx="3.2" ry="2.75" fill="#4F977B"/>
<ellipse cx="149.7" cy="1538.9" rx="3.2" ry="2.75" fill="#3C4B85"/>
<ellipse cx="160.7" cy="1538.9" rx="3.2" ry="2.75" fill="#4F977B"/>
<ellipse cx="171.7" cy="1538.9" rx="3.2" ry="2.75" fill="#4F977B"/>
<ellipse cx="182.7" cy="1538.9" rx="3.2" ry="2.75" fill="#4F977B"/>
<ellipse cx="193.7" cy="1538.9" rx="3.2" ry="2.75" fill="#4F977B"/>
<ellipse cx="204.7" cy="1538.9" rx="3.2" ry="2.75" fill="#4F977B"/>
<ellipse cx="215.7" cy="1538.9" rx="3.2" ry="2.75" fill="#4F977B"/>
<ellipse cx="226.7" cy="1538.9" rx="3.2" ry="2.75" fill="#3C4B85"/>
<ellipse cx="237.7" cy="1538.9" rx="3.2" ry="2.75" fill="#3C4B85"/>
<ellipse cx="248.7" cy="1538.9" rx="3.2" ry="2.75" fill="#3C4B85"/>
<ellipse cx="259.7" cy="1538.9" rx="3.2" ry="2.75" fill="#3C4B85"/>
<ellipse cx="270.7" cy="1538.9" rx="3.2" ry="2.75" fill="#3C4B85"/>
<ellipse cx="281.7" cy="1538.9" rx="3.2" ry="2.75" fill="#3C4B85"/>
<ellipse cx="292.7" cy="1538.9" rx="3.2" ry="2.75" fill="#3C4B85"/>
<ellipse cx="303.7" cy="1538.9" rx="3.2" ry="2.75" fill="#4F977B"/>
<ellipse cx="314.7" cy="1538.9" rx="3.2" ry="2.75" fill="#3C4B85"/>
<ellipse cx="325.7" cy="1538.9" rx="3.2" ry="2.75" fill="#4F977B"/>
<ellipse cx="336.7" cy="1538.9" rx="3.2" ry="2.75" fill="#3C4B85"/>
<ellipse cx="347.7" cy="1538.9" rx="3.2" ry="2.75" fill="#3C4B85"/>
<ellipse cx="358.7" cy="1538.9" rx="3.2" ry="2.75" fill="#4F977B"/>
<ellipse cx="369.7" cy="1538.9" rx="3.2" ry="2.75" fill="#4F977B"/>
<ellipse cx="380.7" cy="1538.9" rx="3.2" ry="2.75" fill="#3C4B85"/>
<ellipse cx="391.7" cy="1538.9" rx="3.2" ry="2.75" fill="#4F977B"/>
<ellipse cx="402.7" cy="1538.9" rx="3.2" ry="2.75" fill="#4F977B"/>
<ellipse cx="413.7" cy="1538.9" rx="3.2" ry="2.75" fill="#4F977B"/>
<ellipse cx="424.7" cy="1538.9" rx="3.2" ry="2.75" fill="#3C4B85"/>
<ellipse cx="435.7" cy="1538.9" rx="3.2" ry="2.75" fill="#4F977B"/>
<ellipse cx="446.7" cy="1538.9" rx="3.2" ry="2.75" fill="#3C4B85"/>
<ellipse cx="457.7" cy="1538.9" rx="3.2" ry="2.75" fill="#3C4B85"/>
<ellipse cx="468.7" cy="1538.9" rx="3.2" ry="2.75" fill="#3C4B85"/>
<ellipse cx="479.7" cy="1538.9" rx="3.2" ry="2.75" fill="#4F977B"/>
<ellipse cx="490.7" cy="1538.9" rx="3.2" ry="2.75" fill="#3C4B85"/>
<ellipse cx="501.7" cy="1538.9" rx="3.2" ry="2.75" fill="#3C4B85"/>
<ellipse cx="512.7" cy="1538.9" rx="3.2" ry="2.75" fill="#3C4B85"/>
<ellipse cx="523.7" cy="1538.9" rx="3.2" ry="2.75" fill="#3C4B85"/>
<ellipse cx="534.7" cy="1538.9" rx="3.2" ry="2.75" fill="#4F977B"/>
<ellipse cx="545.7" cy="1538.9" rx="3.2" ry="2.75" fill="#3C4B85"/>
<ellipse cx="556.7" cy="1538.9" rx="3.2" ry="2.75" fill="#3C4B85"/>
<ellipse cx="567.7" cy="1538.9" rx="3.2" ry="2.75" fill="#3C4B85"/>
<ellipse cx="578.7" cy="1538.9" rx="3.2" ry="2.75" fill="#3C4B85"/>
<ellipse cx="589.7" cy="1538.9" rx="3.2" ry="2.75" fill="#3C4B85"/>
<ellipse cx="600.7" cy="1538.9" rx="3.2" ry="2.75" fill="#3C4B85"/>
<ellipse cx="611.7" cy="1538.9" rx="3.2" ry="2.75" fill="#3C4B85"/>
<ellipse cx="622.7" cy="1538.9" rx="3.2" ry="2.75" fill="#3C4B85"/>
<rect x="66.4" y="1601.9" width="11.73" height="79.2" fill="#2E4A9A" />
<rect x="66.4" y="1680.6" width="11.73" height="78.4" fill="#A8A8D4" />
<rect x="77.43" y="1601.9" width="11.73" height="79.2" fill="#9090C8" />
<rect x="77.43" y="1680.6" width="11.73" height="78.4" fill="#9898C8" />
<rect x="88.46" y="1601.9" width="11.73" height="79.2" fill="#B0B0D8" />
<rect x="88.46" y="1680.6" width="11.73" height="78.4" fill="#8088C0" />
<rect x="99.49" y="1601.9" width="11.73" height="79.2" fill="#5A64AA" />
<rect x="99.49" y="1680.6" width="11.73" height="78.4" fill="#DADAEE" />
<rect x="110.53" y="1601.9" width="11.73" height="79.2" fill="#8088C0" />
<rect x="110.53" y="1680.6" width="11.73" height="78.4" fill="#C6C6E4" />
<rect x="121.56" y="1601.9" width="11.73" height="79.2" fill="#E4E4F2" />
<rect x="121.56" y="1680.6" width="11.73" height="78.4" fill="#7880BC" />
<rect x="132.59" y="1601.9" width="11.73" height="79.2" fill="#FAFAFC" />
<rect x="132.59" y="1680.6" width="11.73" height="78.4" fill="#9494C8" />
<rect x="143.62" y="1601.9" width="11.73" height="79.2" fill="#FFFFFF" />
<rect x="143.62" y="1680.6" width="11.73" height="78.4" fill="#9494C8" />
<rect x="154.65" y="1601.9" width="11.73" height="79.2" fill="#C6C6E4" />
<rect x="154.65" y="1680.6" width="11.73" height="78.4" fill="#E8E8F4" />
<rect x="165.68" y="1601.9" width="11.73" height="79.2" fill="#EAEAF4" />
<rect x="165.68" y="1680.6" width="11.73" height="78.4" fill="#EEEEF6" />
<rect x="176.71" y="1601.9" width="11.73" height="79.2" fill="#F3F3F8" />
<rect x="176.71" y="1680.6" width="11.73" height="78.4" fill="#EFEFF5" />
<rect x="187.75" y="1601.9" width="11.73" height="79.2" fill="#F3F3F8" />
<rect x="187.75" y="1680.6" width="11.73" height="78.4" fill="#EEEEF5" />
<rect x="198.78" y="1601.9" width="11.73" height="79.2" fill="#F3F3F8" />
<rect x="198.78" y="1680.6" width="11.73" height="78.4" fill="#EEEEF4" />
<rect x="209.81" y="1601.9" width="11.73" height="79.2" fill="#F3F3F8" />
<rect x="209.81" y="1680.6" width="11.73" height="78.4" fill="#EFEFF5" />
<rect x="220.84" y="1601.9" width="11.73" height="79.2" fill="#F3F3F8" />
<rect x="220.84" y="1680.6" width="11.73" height="78.4" fill="#EFEFF5" />
<rect x="231.87" y="1601.9" width="11.73" height="79.2" fill="#F3F3F8" />
<rect x="231.87" y="1680.6" width="11.73" height="78.4" fill="#EFEFF5" />
<rect x="242.9" y="1601.9" width="11.73" height="79.2" fill="#F3F3F8" />
<rect x="242.9" y="1680.6" width="11.73" height="78.4" fill="#EFEFF5" />
<rect x="253.93" y="1601.9" width="11.73" height="79.2" fill="#F3F3F8" />
<rect x="253.93" y="1680.6" width="11.73" height="78.4" fill="#F0F0F6" />
<rect x="264.96" y="1601.9" width="11.73" height="79.2" fill="#F3F3F8" />
<rect x="264.96" y="1680.6" width="11.73" height="78.4" fill="#F0F0F6" />
<rect x="276" y="1601.9" width="11.73" height="79.2" fill="#F3F3F8" />
<rect x="276" y="1680.6" width="11.73" height="78.4" fill="#F1F1F7" />
<rect x="287.03" y="1601.9" width="11.73" height="79.2" fill="#F3F3F8" />
<rect x="287.03" y="1680.6" width="11.73" height="78.4" fill="#F3F3F8" />
<rect x="298.06" y="1601.9" width="11.73" height="79.2" fill="#F3F3F8" />
<rect x="298.06" y="1680.6" width="11.73" height="78.4" fill="#F3F3F8" />
<rect x="309.09" y="1601.9" width="11.73" height="79.2" fill="#F3F3F8" />
<rect x="309.09" y="1680.6" width="11.73" height="78.4" fill="#F3F3F8" />
<rect x="320.12" y="1601.9" width="11.73" height="79.2" fill="#F3F3F8" />
<rect x="320.12" y="1680.6" width="11.73" height="78.4" fill="#F3F3F8" />
<rect x="331.15" y="1601.9" width="11.73" height="79.2" fill="#F3F3F8" />
<rect x="331.15" y="1680.6" width="11.73" height="78.4" fill="#F3F3F8" />
<rect x="342.18" y="1601.9" width="11.73" height="79.2" fill="#FDF8F6" />
<rect x="342.18" y="1680.6" width="11.73" height="78.4" fill="#D8DAEC" />
<rect x="353.22" y="1601.9" width="11.73" height="79.2" fill="#F3F3F8" />
<rect x="353.22" y="1680.6" width="11.73" height="78.4" fill="#F4F4F8" />
<rect x="364.25" y="1601.9" width="11.73" height="79.2" fill="#F3F3F8" />
<rect x="364.25" y="1680.6" width="11.73" height="78.4" fill="#F4F4F8" />
<rect x="375.28" y="1601.9" width="11.73" height="79.2" fill="#F3F3F8" />
<rect x="375.28" y="1680.6" width="11.73" height="78.4" fill="#F4F4F8" />
<rect x="386.31" y="1601.9" width="11.73" height="79.2" fill="#F3F3F8" />
<rect x="386.31" y="1680.6" width="11.73" height="78.4" fill="#F4F4F8" />
<rect x="397.34" y="1601.9" width="11.73" height="79.2" fill="#F3F3F8" />
<rect x="397.34" y="1680.6" width="11.73" height="78.4" fill="#F4F4F8" />
<rect x="408.37" y="1601.9" width="11.73" height="79.2" fill="#F3F3F8" />
<rect x="408.37" y="1680.6" width="11.73" height="78.4" fill="#F4F4F8" />
<rect x="419.4" y="1601.9" width="11.73" height="79.2" fill="#F3F3F8" />
<rect x="419.4" y="1680.6" width="11.73" height="78.4" fill="#F4F4F8" />
<rect x="430.44" y="1601.9" width="11.73" height="79.2" fill="#F3F3F8" />
<rect x="430.44" y="1680.6" width="11.73" height="78.4" fill="#F4F4F8" />
<rect x="441.47" y="1601.9" width="11.73" height="79.2" fill="#B4B4D8" />
<rect x="441.47" y="1680.6" width="11.73" height="78.4" fill="#E8BCBC" />
<rect x="452.5" y="1601.9" width="11.73" height="79.2" fill="#F4F4F8" />
<rect x="452.5" y="1680.6" width="11.73" height="78.4" fill="#F8F8FA" />
<rect x="463.53" y="1601.9" width="11.73" height="79.2" fill="#F5F5F9" />
<rect x="463.53" y="1680.6" width="11.73" height="78.4" fill="#F6F6FA" />
<rect x="474.56" y="1601.9" width="11.73" height="79.2" fill="#F6F6FA" />
<rect x="474.56" y="1680.6" width="11.73" height="78.4" fill="#F8F8FB" />
<rect x="485.59" y="1601.9" width="11.73" height="79.2" fill="#F4F4F8" />
<rect x="485.59" y="1680.6" width="11.73" height="78.4" fill="#FAFAFB" />
<rect x="496.62" y="1601.9" width="11.73" height="79.2" fill="#F3F3F8" />
<rect x="496.62" y="1680.6" width="11.73" height="78.4" fill="#FAFAFB" />
<rect x="507.65" y="1601.9" width="11.73" height="79.2" fill="#F3F3F8" />
<rect x="507.65" y="1680.6" width="11.73" height="78.4" fill="#FCFCFC" />
<rect x="518.69" y="1601.9" width="11.73" height="79.2" fill="#F4F4F8" />
<rect x="518.69" y="1680.6" width="11.73" height="78.4" fill="#FDFDFD" />
<rect x="529.72" y="1601.9" width="11.73" height="79.2" fill="#F3F3F8" />
<rect x="529.72" y="1680.6" width="11.73" height="78.4" fill="#FDFDFD" />
<rect x="540.75" y="1601.9" width="11.73" height="79.2" fill="#F4F4F8" />
<rect x="540.75" y="1680.6" width="11.73" height="78.4" fill="#F8F8FA" />
<rect x="551.78" y="1601.9" width="11.73" height="79.2" fill="#F6E8E6" />
<rect x="551.78" y="1680.6" width="11.73" height="78.4" fill="#F4F4F8" />
<rect x="562.81" y="1601.9" width="11.73" height="79.2" fill="#E6E6F4" />
<rect x="562.81" y="1680.6" width="11.73" height="78.4" fill="#CC4444" />
<rect x="573.84" y="1601.9" width="11.73" height="79.2" fill="#F0D0CC" />
<rect x="573.84" y="1680.6" width="11.73" height="78.4" fill="#E8BCBC" />
<rect x="584.87" y="1601.9" width="11.73" height="79.2" fill="#DDA0A0" />
<rect x="584.87" y="1680.6" width="11.73" height="78.4" fill="#F6E6E6" />
<rect x="595.91" y="1601.9" width="11.73" height="79.2" fill="#D47A7A" />
<rect x="595.91" y="1680.6" width="11.73" height="78.4" fill="#FFFFFF" />
<rect x="606.94" y="1601.9" width="11.73" height="79.2" fill="#CF5F5F" />
<rect x="606.94" y="1680.6" width="11.73" height="78.4" fill="#D47878" />
<rect x="617.97" y="1601.9" width="11.03" height="79.2" fill="#D06666" />
<rect x="617.97" y="1680.6" width="11.03" height="78.4" fill="#C42420" />
<rect x="66.4" y="1601.9" width="562.6" height="157.1" fill="none" stroke="#000" stroke-width="1.8"/>
<text x="636.5" y="1650.6" font-family="'Liberation Serif', 'Times New Roman', serif" font-size="18.5" text-anchor="start" fill="#000" stroke="#000" stroke-width="0.25" >CDK7</text>
<text x="636.5" y="1728.2" font-family="'Liberation Serif', 'Times New Roman', serif" font-size="18.5" text-anchor="start" fill="#000" stroke="#000" stroke-width="0.25" >DDB2</text>
<text transform="translate(711.6,1480.8) scale(1.11,1)" font-family="'Liberation Serif', 'Times New Roman', serif" font-size="17" text-anchor="start" fill="#000" stroke="#000" stroke-width="0.25">Expression</text>
<rect x="711.3" y="1484.9" width="8.72" height="27.2" fill="#2E4A9A" />
<rect x="719.32" y="1484.9" width="8.72" height="27.2" fill="#4A58A6" />
<rect x="727.34" y="1484.9" width="8.72" height="27.2" fill="#6470B2" />
<rect x="735.36" y="1484.9" width="8.72" height="27.2" fill="#7E86BE" />
<rect x="743.38" y="1484.9" width="8.72" height="27.2" fill="#8E94C6" />
<rect x="751.4" y="1484.9" width="8.72" height="27.2" fill="#A0A4CE" />
<rect x="759.42" y="1484.9" width="8.72" height="27.2" fill="#B0B2D6" />
<rect x="767.44" y="1484.9" width="8.72" height="27.2" fill="#C2C2DE" />
<rect x="775.46" y="1484.9" width="8.72" height="27.2" fill="#D4D4E8" />
<rect x="783.48" y="1484.9" width="8.72" height="27.2" fill="#E6E6F2" />
<rect x="791.5" y="1484.9" width="8.72" height="27.2" fill="#FFFFFF" />
<rect x="799.52" y="1484.9" width="8.72" height="27.2" fill="#FBF0EE" />
<rect x="807.54" y="1484.9" width="8.72" height="27.2" fill="#F6E2E2" />
<rect x="815.56" y="1484.9" width="8.72" height="27.2" fill="#F0D4D4" />
<rect x="823.58" y="1484.9" width="8.72" height="27.2" fill="#EAC4C4" />
<rect x="831.6" y="1484.9" width="8.72" height="27.2" fill="#E4B4B4" />
<rect x="839.62" y="1484.9" width="8.72" height="27.2" fill="#DEA2A2" />
<rect x="847.64" y="1484.9" width="8.72" height="27.2" fill="#D88E8E" />
<rect x="855.66" y="1484.9" width="8.72" height="27.2" fill="#D47878" />
<rect x="863.68" y="1484.9" width="8.02" height="27.2" fill="#D05A5A" />
<line x1="710.8" y1="1512.1" x2="872.2" y2="1512.1" stroke="#000" stroke-width="1" />
<line x1="711.3" y1="1512.1" x2="711.3" y2="1520.5" stroke="#000" stroke-width="1.6" />
<line x1="730.7" y1="1512.1" x2="730.7" y2="1520.5" stroke="#000" stroke-width="1.6" />
<text transform="translate(730.7,1536) scale(1.11,1)" font-family="'Liberation Serif', 'Times New Roman', serif" font-size="16" text-anchor="middle" fill="#000" stroke="#000" stroke-width="0.25">−2</text>
<line x1="785.7" y1="1512.1" x2="785.7" y2="1520.5" stroke="#000" stroke-width="1.6" />
<text transform="translate(785.7,1536) scale(1.11,1)" font-family="'Liberation Serif', 'Times New Roman', serif" font-size="16" text-anchor="middle" fill="#000" stroke="#000" stroke-width="0.25">0</text>
<line x1="840.7" y1="1512.1" x2="840.7" y2="1520.5" stroke="#000" stroke-width="1.6" />
<text transform="translate(840.7,1536) scale(1.11,1)" font-family="'Liberation Serif', 'Times New Roman', serif" font-size="16" text-anchor="middle" fill="#000" stroke="#000" stroke-width="0.25">2</text>
<line x1="871.7" y1="1512.1" x2="871.7" y2="1520.5" stroke="#000" stroke-width="1.6" />
<text transform="translate(711.6,1557.8) scale(1.11,1)" font-family="'Liberation Serif', 'Times New Roman', serif" font-size="17" text-anchor="start" fill="#000" stroke="#000" stroke-width="0.25">RiskScore:</text>
<text transform="translate(711.6,1615.5) scale(1.11,1)" font-family="'Liberation Serif', 'Times New Roman', serif" font-size="17" text-anchor="start" fill="#000" stroke="#000" stroke-width="0.25">Time:</text>
<ellipse cx="721" cy="1569" rx="9.75" ry="8.05" fill="#74AEC8"/>
<text transform="translate(736.1,1577.2) scale(1.11,1)" font-family="'Liberation Serif', 'Times New Roman', serif" font-size="17" text-anchor="start" fill="#000" stroke="#000" stroke-width="0.25">Low</text>
<ellipse cx="721" cy="1588.1" rx="9.75" ry="8.05" fill="#BF4D3A"/>
<text transform="translate(736.1,1596.4) scale(1.11,1)" font-family="'Liberation Serif', 'Times New Roman', serif" font-size="17" text-anchor="start" fill="#000" stroke="#000" stroke-width="0.25">High</text>
<ellipse cx="721" cy="1627.2" rx="9.75" ry="8.05" fill="#4F977B"/>
<text transform="translate(736.1,1635.2) scale(1.11,1)" font-family="'Liberation Serif', 'Times New Roman', serif" font-size="17" text-anchor="start" fill="#000" stroke="#000" stroke-width="0.25">Alive</text>
<ellipse cx="721" cy="1646.3" rx="9.75" ry="8.05" fill="#3C4B85"/>
<text transform="translate(736.1,1654.3) scale(1.11,1)" font-family="'Liberation Serif', 'Times New Roman', serif" font-size="17" text-anchor="start" fill="#000" stroke="#000" stroke-width="0.25">Dead</text>
<line x1="966" y1="1363.6" x2="1529.4" y2="1363.6" stroke="#000" stroke-width="2" />
<line x1="966" y1="1481.1" x2="1529.4" y2="1481.1" stroke="#000" stroke-width="2" />
<line x1="974.5" y1="1363.6" x2="974.5" y2="1481.1" stroke="#000" stroke-width="2" />
<line x1="1528.4" y1="1363.6" x2="1528.4" y2="1481.1" stroke="#000" stroke-width="2" />
<line x1="983.8" y1="1480.1" x2="983.8" y2="1436.01" stroke="#74AEC8" stroke-width="1.5" />
<circle cx="983.8" cy="1436.01" r="2.9" fill="#74AEC8"/>
<line x1="1002.26" y1="1480.1" x2="1002.26" y2="1430.13" stroke="#74AEC8" stroke-width="1.5" />
<circle cx="1002.26" cy="1430.13" r="2.9" fill="#74AEC8"/>
<line x1="1020.72" y1="1480.1" x2="1020.72" y2="1426.32" stroke="#74AEC8" stroke-width="1.5" />
<circle cx="1020.72" cy="1426.32" r="2.9" fill="#74AEC8"/>
<line x1="1039.18" y1="1480.1" x2="1039.18" y2="1426.32" stroke="#74AEC8" stroke-width="1.5" />
<circle cx="1039.18" cy="1426.32" r="2.9" fill="#74AEC8"/>
<line x1="1057.64" y1="1480.1" x2="1057.64" y2="1419.71" stroke="#74AEC8" stroke-width="1.5" />
<circle cx="1057.64" cy="1419.71" r="2.9" fill="#74AEC8"/>
<line x1="1076.1" y1="1480.1" x2="1076.1" y2="1419.56" stroke="#74AEC8" stroke-width="1.5" />
<circle cx="1076.1" cy="1419.56" r="2.9" fill="#74AEC8"/>
<line x1="1094.56" y1="1480.1" x2="1094.56" y2="1413.54" stroke="#74AEC8" stroke-width="1.5" />
<circle cx="1094.56" cy="1413.54" r="2.9" fill="#74AEC8"/>
<line x1="1113.02" y1="1480.1" x2="1113.02" y2="1413.54" stroke="#74AEC8" stroke-width="1.5" />
<circle cx="1113.02" cy="1413.54" r="2.9" fill="#74AEC8"/>
<line x1="1131.48" y1="1480.1" x2="1131.48" y2="1411.19" stroke="#74AEC8" stroke-width="1.5" />
<circle cx="1131.48" cy="1411.19" r="2.9" fill="#74AEC8"/>
<line x1="1149.94" y1="1480.1" x2="1149.94" y2="1402.08" stroke="#74AEC8" stroke-width="1.5" />
<circle cx="1149.94" cy="1402.08" r="2.9" fill="#74AEC8"/>
<line x1="1168.4" y1="1480.1" x2="1168.4" y2="1401.49" stroke="#74AEC8" stroke-width="1.5" />
<circle cx="1168.4" cy="1401.49" r="2.9" fill="#74AEC8"/>
<line x1="1186.86" y1="1480.1" x2="1186.86" y2="1400.61" stroke="#74AEC8" stroke-width="1.5" />
<circle cx="1186.86" cy="1400.61" r="2.9" fill="#74AEC8"/>
<line x1="1205.32" y1="1480.1" x2="1205.32" y2="1399.58" stroke="#74AEC8" stroke-width="1.5" />
<circle cx="1205.32" cy="1399.58" r="2.9" fill="#74AEC8"/>
<line x1="1223.78" y1="1480.1" x2="1223.78" y2="1399.58" stroke="#74AEC8" stroke-width="1.5" />
<circle cx="1223.78" cy="1399.58" r="2.9" fill="#74AEC8"/>
<line x1="1242.24" y1="1480.1" x2="1242.24" y2="1396.65" stroke="#74AEC8" stroke-width="1.5" />
<circle cx="1242.24" cy="1396.65" r="2.9" fill="#74AEC8"/>
<line x1="1260.7" y1="1480.1" x2="1260.7" y2="1396.5" stroke="#BF4D3A" stroke-width="1.5" />
<circle cx="1260.7" cy="1396.5" r="2.9" fill="#BF4D3A"/>
<line x1="1279.16" y1="1480.1" x2="1279.16" y2="1396.21" stroke="#BF4D3A" stroke-width="1.5" />
<circle cx="1279.16" cy="1396.21" r="2.9" fill="#BF4D3A"/>
<line x1="1297.62" y1="1480.1" x2="1297.62" y2="1395.18" stroke="#BF4D3A" stroke-width="1.5" />
<circle cx="1297.62" cy="1395.18" r="2.9" fill="#BF4D3A"/>
<line x1="1316.08" y1="1480.1" x2="1316.08" y2="1394.74" stroke="#BF4D3A" stroke-width="1.5" />
<circle cx="1316.08" cy="1394.74" r="2.9" fill="#BF4D3A"/>
<line x1="1334.54" y1="1480.1" x2="1334.54" y2="1394.74" stroke="#BF4D3A" stroke-width="1.5" />
<circle cx="1334.54" cy="1394.74" r="2.9" fill="#BF4D3A"/>
<line x1="1353" y1="1480.1" x2="1353" y2="1394.15" stroke="#BF4D3A" stroke-width="1.5" />
<circle cx="1353" cy="1394.15" r="2.9" fill="#BF4D3A"/>
<line x1="1371.46" y1="1480.1" x2="1371.46" y2="1392.83" stroke="#BF4D3A" stroke-width="1.5" />
<circle cx="1371.46" cy="1392.83" r="2.9" fill="#BF4D3A"/>
<line x1="1389.92" y1="1480.1" x2="1389.92" y2="1390.04" stroke="#BF4D3A" stroke-width="1.5" />
<circle cx="1389.92" cy="1390.04" r="2.9" fill="#BF4D3A"/>
<line x1="1408.38" y1="1480.1" x2="1408.38" y2="1388.86" stroke="#BF4D3A" stroke-width="1.5" />
<circle cx="1408.38" cy="1388.86" r="2.9" fill="#BF4D3A"/>
<line x1="1426.84" y1="1480.1" x2="1426.84" y2="1388.57" stroke="#BF4D3A" stroke-width="1.5" />
<circle cx="1426.84" cy="1388.57" r="2.9" fill="#BF4D3A"/>
<line x1="1445.3" y1="1480.1" x2="1445.3" y2="1384.6" stroke="#BF4D3A" stroke-width="1.5" />
<circle cx="1445.3" cy="1384.6" r="2.9" fill="#BF4D3A"/>
<line x1="1463.76" y1="1480.1" x2="1463.76" y2="1382.69" stroke="#BF4D3A" stroke-width="1.5" />
<circle cx="1463.76" cy="1382.69" r="2.9" fill="#BF4D3A"/>
<line x1="1482.22" y1="1480.1" x2="1482.22" y2="1381.52" stroke="#BF4D3A" stroke-width="1.5" />
<circle cx="1482.22" cy="1381.52" r="2.9" fill="#BF4D3A"/>
<line x1="1500.68" y1="1480.1" x2="1500.68" y2="1375.94" stroke="#BF4D3A" stroke-width="1.5" />
<circle cx="1500.68" cy="1375.94" r="2.9" fill="#BF4D3A"/>
<line x1="1519.14" y1="1480.1" x2="1519.14" y2="1369.92" stroke="#BF4D3A" stroke-width="1.5" />
<circle cx="1519.14" cy="1369.92" r="2.9" fill="#BF4D3A"/>
<line x1="966" y1="1481.1" x2="974.5" y2="1481.1" stroke="#000" stroke-width="2" />
<text x="960.6" y="1487.1" font-family="'Liberation Serif', 'Times New Roman', serif" font-size="16.5" text-anchor="end" fill="#000" stroke="#000" stroke-width="0.25" >0</text>
<line x1="966" y1="1451.72" x2="974.5" y2="1451.72" stroke="#000" stroke-width="2" />
<text x="960.6" y="1457.72" font-family="'Liberation Serif', 'Times New Roman', serif" font-size="16.5" text-anchor="end" fill="#000" stroke="#000" stroke-width="0.25" >2</text>
<line x1="966" y1="1422.35" x2="974.5" y2="1422.35" stroke="#000" stroke-width="2" />
<text x="960.6" y="1428.35" font-family="'Liberation Serif', 'Times New Roman', serif" font-size="16.5" text-anchor="end" fill="#000" stroke="#000" stroke-width="0.25" >4</text>
<line x1="966" y1="1392.97" x2="974.5" y2="1392.97" stroke="#000" stroke-width="2" />
<text x="960.6" y="1398.97" font-family="'Liberation Serif', 'Times New Roman', serif" font-size="16.5" text-anchor="end" fill="#000" stroke="#000" stroke-width="0.25" >6</text>
<line x1="966" y1="1363.6" x2="974.5" y2="1363.6" stroke="#000" stroke-width="2" />
<text x="960.6" y="1369.6" font-family="'Liberation Serif', 'Times New Roman', serif" font-size="16.5" text-anchor="end" fill="#000" stroke="#000" stroke-width="0.25" >8</text>
<text transform="translate(945.3,1430.8) rotate(-90)" font-family="'Liberation Serif', 'Times New Roman', serif" font-size="18" text-anchor="middle" fill="#000" stroke="#000" stroke-width="0.25">RiskScore</text>
<line x1="966" y1="1488.9" x2="1529.4" y2="1488.9" stroke="#000" stroke-width="2" />
<line x1="966" y1="1605.2" x2="1529.4" y2="1605.2" stroke="#000" stroke-width="2" />
<line x1="974.5" y1="1488.9" x2="974.5" y2="1605.2" stroke="#000" stroke-width="2" />
<line x1="1528.4" y1="1488.9" x2="1528.4" y2="1605.2" stroke="#000" stroke-width="2" />
<line x1="966" y1="1547.2" x2="974.5" y2="1547.2" stroke="#000" stroke-width="2" />
<text x="960.6" y="1553.3" font-family="'Liberation Serif', 'Times New Roman', serif" font-size="16.5" text-anchor="end" fill="#000" stroke="#000" stroke-width="0.25" >100</text>
<text transform="translate(927.5,1556.5) rotate(-90)" font-family="'Liberation Serif', 'Times New Roman', serif" font-size="17.3" text-anchor="middle" fill="#000" stroke="#000" stroke-width="0.25">Time</text>
<circle cx="983.8" cy="1547.2" r="2.95" fill="#4F977B"/>
<circle cx="1002.26" cy="1547.2" r="2.95" fill="#4F977B"/>
<circle cx="1020.72" cy="1547.2" r="2.95" fill="#4F977B"/>
<circle cx="1039.18" cy="1547.2" r="2.95" fill="#4F977B"/>
<circle cx="1057.64" cy="1547.2" r="2.95" fill="#4F977B"/>
<circle cx="1076.1" cy="1547.2" r="2.95" fill="#4F977B"/>
<circle cx="1094.56" cy="1547.2" r="2.95" fill="#4F977B"/>
<circle cx="1113.02" cy="1547.2" r="2.95" fill="#4F977B"/>
<circle cx="1131.48" cy="1547.2" r="2.95" fill="#3C4B85"/>
<circle cx="1149.94" cy="1547.2" r="2.95" fill="#4F977B"/>
<circle cx="1168.4" cy="1547.2" r="2.95" fill="#4F977B"/>
<circle cx="1186.86" cy="1547.2" r="2.95" fill="#3C4B85"/>
<circle cx="1205.32" cy="1547.2" r="2.95" fill="#3C4B85"/>
<circle cx="1223.78" cy="1547.2" r="2.95" fill="#4F977B"/>
<circle cx="1242.24" cy="1547.2" r="2.95" fill="#4F977B"/>
<circle cx="1260.7" cy="1547.2" r="2.95" fill="#4F977B"/>
<circle cx="1279.16" cy="1547.2" r="2.95" fill="#3C4B85"/>
<circle cx="1297.62" cy="1547.2" r="2.95" fill="#3C4B85"/>
<circle cx="1316.08" cy="1547.2" r="2.95" fill="#3C4B85"/>
<circle cx="1334.54" cy="1547.2" r="2.95" fill="#4F977B"/>
<circle cx="1353" cy="1547.2" r="2.95" fill="#4F977B"/>
<circle cx="1371.46" cy="1547.2" r="2.95" fill="#3C4B85"/>
<circle cx="1389.92" cy="1547.2" r="2.95" fill="#3C4B85"/>
<circle cx="1408.38" cy="1547.2" r="2.95" fill="#4F977B"/>
<circle cx="1426.84" cy="1547.2" r="2.95" fill="#3C4B85"/>
<circle cx="1445.3" cy="1547.2" r="2.95" fill="#3C4B85"/>
<circle cx="1463.76" cy="1547.2" r="2.95" fill="#3C4B85"/>
<circle cx="1482.22" cy="1547.2" r="2.95" fill="#3C4B85"/>
<circle cx="1500.68" cy="1547.2" r="2.95" fill="#3C4B85"/>
<circle cx="1519.14" cy="1547.2" r="2.95" fill="#3C4B85"/>
<rect x="973.5" y="1612.9" width="19.23" height="81.2" fill="#2E4A9A" />
<rect x="973.5" y="1693.6" width="19.23" height="82.1" fill="#F8F8FA" />
<rect x="992.03" y="1612.9" width="19.23" height="81.2" fill="#5560A8" />
<rect x="992.03" y="1693.6" width="19.23" height="82.1" fill="#EEEEF6" />
<rect x="1010.57" y="1612.9" width="19.23" height="81.2" fill="#6068AA" />
<rect x="1010.57" y="1693.6" width="19.23" height="82.1" fill="#D6D6EC" />
<rect x="1029.1" y="1612.9" width="19.23" height="81.2" fill="#5560A8" />
<rect x="1029.1" y="1693.6" width="19.23" height="82.1" fill="#C8C8E6" />
<rect x="1047.63" y="1612.9" width="19.23" height="81.2" fill="#B0B0D8" />
<rect x="1047.63" y="1693.6" width="19.23" height="82.1" fill="#FEFAF6" />
<rect x="1066.17" y="1612.9" width="19.23" height="81.2" fill="#9898CA" />
<rect x="1066.17" y="1693.6" width="19.23" height="82.1" fill="#D6D6EC" />
<rect x="1084.7" y="1612.9" width="19.23" height="81.2" fill="#B8B8DC" />
<rect x="1084.7" y="1693.6" width="19.23" height="82.1" fill="#D6D6EC" />
<rect x="1103.23" y="1612.9" width="19.23" height="81.2" fill="#E2E2F0" />
<rect x="1103.23" y="1693.6" width="19.23" height="82.1" fill="#E8C0C0" />
<rect x="1121.77" y="1612.9" width="19.23" height="81.2" fill="#D2D2E8" />
<rect x="1121.77" y="1693.6" width="19.23" height="82.1" fill="#FFFFFF" />
<rect x="1140.3" y="1612.9" width="19.23" height="81.2" fill="#EEEEF6" />
<rect x="1140.3" y="1693.6" width="19.23" height="82.1" fill="#E4E4F0" />
<rect x="1158.83" y="1612.9" width="19.23" height="81.2" fill="#D0D0E8" />
<rect x="1158.83" y="1693.6" width="19.23" height="82.1" fill="#7880B8" />
<rect x="1177.37" y="1612.9" width="19.23" height="81.2" fill="#FCF2F0" />
<rect x="1177.37" y="1693.6" width="19.23" height="82.1" fill="#F6E2E2" />
<rect x="1195.9" y="1612.9" width="19.23" height="81.2" fill="#F2DADA" />
<rect x="1195.9" y="1693.6" width="19.23" height="82.1" fill="#E0A4A8" />
<rect x="1214.43" y="1612.9" width="19.23" height="81.2" fill="#F6E6E6" />
<rect x="1214.43" y="1693.6" width="19.23" height="82.1" fill="#ECCACA" />
<rect x="1232.97" y="1612.9" width="19.23" height="81.2" fill="#DCA0A0" />
<rect x="1232.97" y="1693.6" width="19.23" height="82.1" fill="#C42420" />
<rect x="1251.5" y="1612.9" width="19.23" height="81.2" fill="#E0AAAA" />
<rect x="1251.5" y="1693.6" width="19.23" height="82.1" fill="#C42420" />
<rect x="1270.03" y="1612.9" width="19.23" height="81.2" fill="#FDF6F4" />
<rect x="1270.03" y="1693.6" width="19.23" height="82.1" fill="#E4E6F4" />
<rect x="1288.57" y="1612.9" width="19.23" height="81.2" fill="#F6E2E0" />
<rect x="1288.57" y="1693.6" width="19.23" height="82.1" fill="#FEF8F6" />
<rect x="1307.1" y="1612.9" width="19.23" height="81.2" fill="#F6E4E2" />
<rect x="1307.1" y="1693.6" width="19.23" height="82.1" fill="#F6E6E6" />
<rect x="1325.63" y="1612.9" width="19.23" height="81.2" fill="#EAC4C4" />
<rect x="1325.63" y="1693.6" width="19.23" height="82.1" fill="#E4AEB0" />
<rect x="1344.17" y="1612.9" width="19.23" height="81.2" fill="#FAEEEC" />
<rect x="1344.17" y="1693.6" width="19.23" height="82.1" fill="#EAEAF4" />
<rect x="1362.7" y="1612.9" width="19.23" height="81.2" fill="#FDF6F6" />
<rect x="1362.7" y="1693.6" width="19.23" height="82.1" fill="#BCBCDC" />
<rect x="1381.23" y="1612.9" width="19.23" height="81.2" fill="#F6E2E2" />
<rect x="1381.23" y="1693.6" width="19.23" height="82.1" fill="#D6D6EA" />
<rect x="1399.77" y="1612.9" width="19.23" height="81.2" fill="#F6E4E2" />
<rect x="1399.77" y="1693.6" width="19.23" height="82.1" fill="#C4C4E2" />
<rect x="1418.3" y="1612.9" width="19.23" height="81.2" fill="#EECACA" />
<rect x="1418.3" y="1693.6" width="19.23" height="82.1" fill="#F2F2F8" />
<rect x="1436.83" y="1612.9" width="19.23" height="81.2" fill="#E8C0C0" />
<rect x="1436.83" y="1693.6" width="19.23" height="82.1" fill="#F6F6FA" />
<rect x="1455.37" y="1612.9" width="19.23" height="81.2" fill="#E2AEB0" />
<rect x="1455.37" y="1693.6" width="19.23" height="82.1" fill="#FEF8F6" />
<rect x="1473.9" y="1612.9" width="19.23" height="81.2" fill="#D88C8C" />
<rect x="1473.9" y="1693.6" width="19.23" height="82.1" fill="#EAC4C4" />
<rect x="1492.43" y="1612.9" width="19.23" height="81.2" fill="#D88888" />
<rect x="1492.43" y="1693.6" width="19.23" height="82.1" fill="#FEFAF8" />
<rect x="1510.97" y="1612.9" width="18.53" height="81.2" fill="#EAC4C4" />
<rect x="1510.97" y="1693.6" width="18.53" height="82.1" fill="#2E4A9A" />
<rect x="973.5" y="1612.9" width="556" height="162.8" fill="none" stroke="#000" stroke-width="1.8"/>
<text x="1536.6" y="1663" font-family="'Liberation Serif', 'Times New Roman', serif" font-size="17.5" text-anchor="start" fill="#000" stroke="#000" stroke-width="0.25" >DDB2</text>
<text x="1536.6" y="1743.8" font-family="'Liberation Serif', 'Times New Roman', serif" font-size="17.5" text-anchor="start" fill="#000" stroke="#000" stroke-width="0.25" >CDK7</text>
<text transform="translate(1606.7,1483.5)" font-family="'Liberation Serif', 'Times New Roman', serif" font-size="17.5" text-anchor="start" fill="#000" stroke="#000" stroke-width="0.25">Expression</text>
<rect x="1606" y="1488.2" width="8.19" height="30" fill="#2E4A9A" />
<rect x="1613.48" y="1488.2" width="8.19" height="30" fill="#4A58A6" />
<rect x="1620.97" y="1488.2" width="8.19" height="30" fill="#6470B2" />
<rect x="1628.45" y="1488.2" width="8.19" height="30" fill="#7E86BE" />
<rect x="1635.94" y="1488.2" width="8.19" height="30" fill="#8E94C6" />
<rect x="1643.42" y="1488.2" width="8.19" height="30" fill="#A0A4CE" />
<rect x="1650.91" y="1488.2" width="8.19" height="30" fill="#B0B2D6" />
<rect x="1658.39" y="1488.2" width="8.19" height="30" fill="#C2C2DE" />
<rect x="1665.88" y="1488.2" width="8.19" height="30" fill="#D4D4E8" />
<rect x="1673.37" y="1488.2" width="8.19" height="30" fill="#E6E6F2" />
<rect x="1680.85" y="1488.2" width="8.19" height="30" fill="#FFFFFF" />
<rect x="1688.34" y="1488.2" width="8.19" height="30" fill="#FBF0EE" />
<rect x="1695.82" y="1488.2" width="8.19" height="30" fill="#F6E2E2" />
<rect x="1703.31" y="1488.2" width="8.19" height="30" fill="#F0D4D4" />
<rect x="1710.79" y="1488.2" width="8.19" height="30" fill="#EAC4C4" />
<rect x="1718.28" y="1488.2" width="8.19" height="30" fill="#E4B4B4" />
<rect x="1725.76" y="1488.2" width="8.19" height="30" fill="#DEA2A2" />
<rect x="1733.25" y="1488.2" width="8.19" height="30" fill="#D88E8E" />
<rect x="1740.73" y="1488.2" width="8.19" height="30" fill="#D47878" />
<rect x="1748.22" y="1488.2" width="7.49" height="30" fill="#D05A5A" />
<line x1="1605.5" y1="1518.2" x2="1756.2" y2="1518.2" stroke="#000" stroke-width="1" />
<line x1="1606" y1="1518.2" x2="1606" y2="1525.9" stroke="#000" stroke-width="1.6" />
<text transform="translate(1606,1543)" font-family="'Liberation Serif', 'Times New Roman', serif" font-size="17" text-anchor="middle" fill="#000" stroke="#000" stroke-width="0.25">−2</text>
<line x1="1643.5" y1="1518.2" x2="1643.5" y2="1525.9" stroke="#000" stroke-width="1.6" />
<text transform="translate(1643.5,1543)" font-family="'Liberation Serif', 'Times New Roman', serif" font-size="17" text-anchor="middle" fill="#000" stroke="#000" stroke-width="0.25">−1</text>
<line x1="1680.6" y1="1518.2" x2="1680.6" y2="1525.9" stroke="#000" stroke-width="1.6" />
<text transform="translate(1680.6,1543)" font-family="'Liberation Serif', 'Times New Roman', serif" font-size="17" text-anchor="middle" fill="#000" stroke="#000" stroke-width="0.25">0</text>
<line x1="1718.4" y1="1518.2" x2="1718.4" y2="1525.9" stroke="#000" stroke-width="1.6" />
<text transform="translate(1718.4,1543)" font-family="'Liberation Serif', 'Times New Roman', serif" font-size="17" text-anchor="middle" fill="#000" stroke="#000" stroke-width="0.25">1</text>
<line x1="1755.7" y1="1518.2" x2="1755.7" y2="1525.9" stroke="#000" stroke-width="1.6" />
<text transform="translate(1755.7,1543)" font-family="'Liberation Serif', 'Times New Roman', serif" font-size="17" text-anchor="middle" fill="#000" stroke="#000" stroke-width="0.25">2</text>
<text transform="translate(1606.7,1566.4)" font-family="'Liberation Serif', 'Times New Roman', serif" font-size="17.5" text-anchor="start" fill="#000" stroke="#000" stroke-width="0.25">RiskScore:</text>
<text transform="translate(1606.7,1629.2)" font-family="'Liberation Serif', 'Times New Roman', serif" font-size="17.5" text-anchor="start" fill="#000" stroke="#000" stroke-width="0.25">Time:</text>
<ellipse cx="1615.1" cy="1578.6" rx="8.8" ry="8.8" fill="#74AEC8"/>
<text transform="translate(1629.2,1587)" font-family="'Liberation Serif', 'Times New Roman', serif" font-size="17.5" text-anchor="start" fill="#000" stroke="#000" stroke-width="0.25">Low</text>
<ellipse cx="1615.1" cy="1599.7" rx="8.8" ry="8.8" fill="#BF4D3A"/>
<text transform="translate(1629.2,1608.1)" font-family="'Liberation Serif', 'Times New Roman', serif" font-size="17.5" text-anchor="start" fill="#000" stroke="#000" stroke-width="0.25">High</text>
<ellipse cx="1615.1" cy="1641.1" rx="8.8" ry="8.8" fill="#4F977B"/>
<text transform="translate(1629.2,1649.6)" font-family="'Liberation Serif', 'Times New Roman', serif" font-size="17.5" text-anchor="start" fill="#000" stroke="#000" stroke-width="0.25">Alive</text>
<ellipse cx="1615.1" cy="1662" rx="8.8" ry="8.8" fill="#3C4B85"/>
<text transform="translate(1629.2,1670.7)" font-family="'Liberation Serif', 'Times New Roman', serif" font-size="17.5" text-anchor="start" fill="#000" stroke="#000" stroke-width="0.25">Dead</text>
</svg>
</body></html>
